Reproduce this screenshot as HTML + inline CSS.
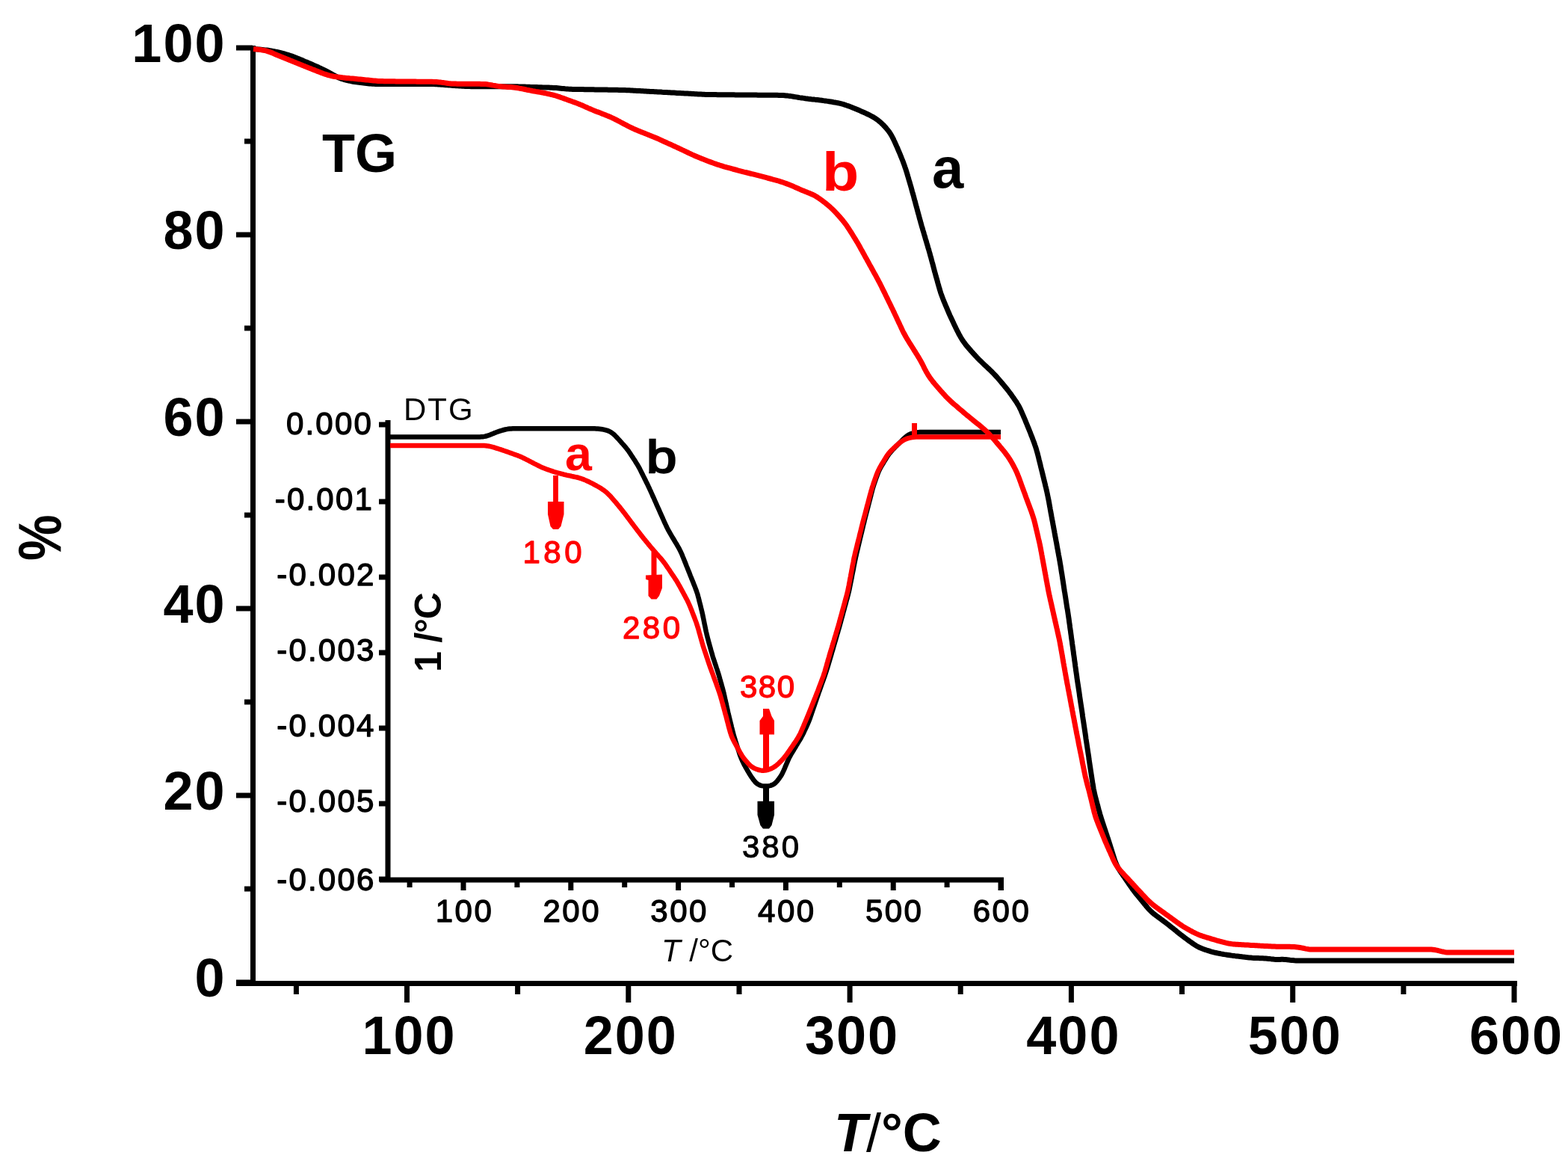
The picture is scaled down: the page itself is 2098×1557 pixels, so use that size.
<!DOCTYPE html>
<html><head><meta charset="utf-8"><title>TG / DTG</title>
<style>
html,body{margin:0;padding:0;background:#fff;}
body{width:2098px;height:1557px;overflow:hidden;}
svg{display:block;}
</style></head><body>
<svg width="2098" height="1557" viewBox="0 0 2098 1557">
<rect width="2098" height="1557" fill="#fff"/>
<g stroke="#000" stroke-width="7" fill="none" stroke-linecap="butt">
<path d="M338.5,61 V1318.5"/>
<path d="M316,1315.5 H2030"/>
<path d="M316,64.0 H338"/>
<path d="M327,189.0 H338"/>
<path d="M316,314.0 H338"/>
<path d="M327,439.0 H338"/>
<path d="M316,564.0 H338"/>
<path d="M327,689.0 H338"/>
<path d="M316,814.0 H338"/>
<path d="M327,939.0 H338"/>
<path d="M316,1064.0 H338"/>
<path d="M327,1189.0 H338"/>
<path d="M316,1314.0 H338"/>
<path d="M396.4,1315 V1330"/>
<path d="M544.5,1315 V1341"/>
<path d="M692.6,1315 V1330"/>
<path d="M840.8,1315 V1341"/>
<path d="M989.0,1315 V1330"/>
<path d="M1137.1,1315 V1341"/>
<path d="M1285.2,1315 V1330"/>
<path d="M1433.4,1315 V1341"/>
<path d="M1581.5,1315 V1330"/>
<path d="M1729.7,1315 V1341"/>
<path d="M1877.9,1315 V1330"/>
<path d="M2026.0,1315 V1341"/>
</g>
<g font-family='"Liberation Sans", Arial, Helvetica, sans-serif' font-weight="bold" font-size="72" fill="#000">
<text x="302.5" y="83.0" text-anchor="end" letter-spacing="2">100</text>
<text x="302.5" y="333.0" text-anchor="end" letter-spacing="2">80</text>
<text x="302.5" y="583.0" text-anchor="end" letter-spacing="2">60</text>
<text x="302.5" y="833.0" text-anchor="end" letter-spacing="2">40</text>
<text x="302.5" y="1083.0" text-anchor="end" letter-spacing="2">20</text>
<text x="302.5" y="1333.0" text-anchor="end" letter-spacing="2">0</text>
<text x="547.5" y="1409.5" text-anchor="middle" letter-spacing="2">100</text>
<text x="843.8" y="1409.5" text-anchor="middle" letter-spacing="2">200</text>
<text x="1140.1" y="1409.5" text-anchor="middle" letter-spacing="2">300</text>
<text x="1436.4" y="1409.5" text-anchor="middle" letter-spacing="2">400</text>
<text x="1732.7" y="1409.5" text-anchor="middle" letter-spacing="2">500</text>
<text x="2029.0" y="1409.5" text-anchor="middle" letter-spacing="2">600</text>
<text x="431" y="229.5">TG</text>
<text x="1247" y="250.5" font-size="76">a</text>
<text transform="translate(1100,254.5) scale(1.12,1)" fill="#f00">b</text>
<text x="1116" y="1539.5"><tspan font-style="italic">T</tspan><tspan font-weight="normal" dx="-1">/</tspan>°C</text>
<text transform="translate(81,750) rotate(-90) scale(0.96,1.13)">%</text>
</g>
<g stroke="#000" stroke-width="7" fill="none">
<path d="M519,562 V1180"/>
<path d="M508,1177 H1343"/>
<path d="M1339.5,1177 V1191"/>
<path d="M507,568.0 H519"/>
<path d="M507,671.0 H519"/>
<path d="M507,772.0 H519"/>
<path d="M507,873.0 H519"/>
<path d="M507,974.0 H519"/>
<path d="M507,1075.0 H519"/>
<path d="M507,1176.0 H519"/>
<path d="M548.1,1177 V1187"/>
<path d="M620.0,1177 V1191"/>
<path d="M691.9,1177 V1187"/>
<path d="M763.8,1177 V1191"/>
<path d="M835.7,1177 V1187"/>
<path d="M907.6,1177 V1191"/>
<path d="M979.5,1177 V1187"/>
<path d="M1051.4,1177 V1191"/>
<path d="M1123.3,1177 V1187"/>
<path d="M1195.2,1177 V1191"/>
<path d="M1267.1,1177 V1187"/>
<path d="M1339.0,1177 V1191"/>
</g>
<g font-family='"Liberation Sans", Arial, Helvetica, sans-serif' font-size="42" stroke-width="1.3" stroke-linejoin="round" fill="#000" stroke="#000">
<text x="499.0" y="581.0" text-anchor="end" letter-spacing="2.2">0.000</text>
<text x="500.0" y="682.0" text-anchor="end" letter-spacing="2.2">-0.001</text>
<text x="502.5" y="783.0" text-anchor="end" letter-spacing="2.2">-0.002</text>
<text x="502.5" y="884.0" text-anchor="end" letter-spacing="2.2">-0.003</text>
<text x="502.5" y="985.0" text-anchor="end" letter-spacing="2.2">-0.004</text>
<text x="502.5" y="1086.0" text-anchor="end" letter-spacing="2.2">-0.005</text>
<text x="502.5" y="1191.0" text-anchor="end" letter-spacing="2.2">-0.006</text>
<text x="621.5" y="1233" text-anchor="middle" letter-spacing="2.5">100</text>
<text x="765.3" y="1233" text-anchor="middle" letter-spacing="2.5">200</text>
<text x="909.1" y="1233" text-anchor="middle" letter-spacing="2.5">300</text>
<text x="1052.9" y="1233" text-anchor="middle" letter-spacing="2.5">400</text>
<text x="1196.7" y="1233" text-anchor="middle" letter-spacing="2.5">500</text>
<text x="1340.5" y="1233" text-anchor="middle" letter-spacing="2.5">600</text>
</g>
<g font-family='"Liberation Sans", Arial, Helvetica, sans-serif' font-size="42" fill="#000">
<text x="540" y="562" letter-spacing="2">DTG</text>
<text x="885" y="1285.5"><tspan font-style="italic">T</tspan> /°C</text>
<text x="993" y="1147" letter-spacing="3" stroke="#000" stroke-width="1">380</text>
<text transform="translate(590,899) rotate(-90)" font-weight="bold" font-size="50" letter-spacing="-1.2">1 /°C</text>
<text transform="translate(865,632) scale(1.17,1)" font-size="62" stroke="#000" stroke-width="2.4">b</text>
</g>
<g font-family='"Liberation Sans", Arial, Helvetica, sans-serif' font-size="42" stroke-width="1.3" stroke-linejoin="round" fill="#f00" stroke="#f00">
<text x="699.5" y="753" letter-spacing="4.5">180</text>
<text x="833" y="854" letter-spacing="3.5">280</text>
<text x="990" y="933" letter-spacing="1.5">380</text>
</g>
<text x="756" y="629.2" font-family='"Liberation Sans", Arial, Helvetica, sans-serif' font-weight="bold" font-size="64.5" fill="#f00">a</text>
<g fill="none" stroke-linejoin="round" stroke-linecap="butt">
<path d="M339.0,65.5 L341.0,65.7 L343.0,65.8 L345.0,66.0 L347.0,66.1 L349.0,66.3 L351.0,66.5 L353.0,66.7 L354.9,66.9 L356.9,67.1 L358.9,67.3 L360.9,67.6 L362.9,67.9 L364.8,68.3 L366.8,68.7 L368.7,69.1 L370.7,69.5 L372.6,69.9 L374.6,70.4 L376.5,70.9 L378.5,71.4 L380.4,71.9 L382.3,72.5 L384.2,73.1 L386.1,73.7 L388.0,74.3 L389.9,74.9 L391.8,75.6 L393.7,76.3 L395.5,77.0 L397.4,77.8 L399.3,78.5 L401.1,79.3 L403.0,80.0 L404.8,80.8 L406.6,81.6 L408.5,82.4 L410.3,83.1 L412.2,83.9 L414.0,84.7 L415.9,85.5 L417.7,86.3 L419.5,87.1 L421.4,87.9 L423.2,88.7 L425.0,89.5 L426.8,90.4 L428.6,91.2 L430.4,92.1 L432.2,93.0 L434.0,93.8 L435.8,94.7 L437.6,95.6 L439.3,96.6 L441.1,97.5 L442.8,98.5 L444.6,99.4 L446.3,100.4 L448.1,101.4 L449.8,102.3 L451.6,103.1 L453.4,104.0 L455.2,104.7 L457.1,105.4 L459.0,106.0 L460.9,106.6 L462.8,107.1 L464.8,107.6 L466.7,108.0 L468.7,108.4 L470.6,108.8 L472.6,109.2 L474.6,109.5 L476.6,109.8 L478.5,110.0 L480.5,110.3 L482.5,110.6 L484.5,110.8 L486.5,111.0 L488.5,111.3 L490.5,111.5 L492.4,111.7 L494.4,111.9 L496.4,112.0 L498.4,112.2 L500.4,112.3 L502.4,112.4 L504.4,112.5 L506.4,112.5 L508.4,112.5 L510.4,112.5 L512.4,112.5 L514.4,112.5 L516.4,112.5 L518.4,112.5 L520.4,112.5 L522.4,112.5 L524.4,112.5 L526.4,112.5 L528.4,112.5 L530.4,112.5 L532.4,112.5 L534.4,112.5 L536.4,112.5 L538.4,112.5 L540.4,112.5 L542.4,112.5 L544.4,112.5 L546.4,112.5 L548.4,112.5 L550.4,112.5 L552.4,112.5 L554.4,112.5 L556.4,112.5 L558.4,112.5 L560.4,112.5 L562.4,112.5 L564.4,112.5 L566.4,112.5 L568.4,112.5 L570.4,112.5 L572.4,112.5 L574.4,112.5 L576.4,112.5 L578.4,112.5 L580.4,112.6 L582.4,112.7 L584.4,112.8 L586.4,112.9 L588.4,113.0 L590.4,113.2 L592.4,113.3 L594.4,113.5 L596.4,113.7 L598.3,113.8 L600.3,114.0 L602.3,114.1 L604.3,114.3 L606.3,114.4 L608.3,114.5 L610.3,114.7 L612.3,114.8 L614.3,114.9 L616.3,115.1 L618.3,115.2 L620.3,115.3 L622.3,115.4 L624.3,115.5 L626.3,115.6 L628.3,115.6 L630.3,115.7 L632.3,115.7 L634.3,115.7 L636.3,115.7 L638.3,115.7 L640.3,115.7 L642.3,115.7 L644.3,115.7 L646.3,115.7 L648.3,115.7 L650.3,115.7 L652.3,115.7 L654.3,115.7 L656.3,115.7 L658.3,115.7 L660.3,115.7 L662.3,115.7 L664.3,115.7 L666.3,115.7 L668.3,115.7 L670.3,115.7 L672.3,115.7 L674.3,115.7 L676.3,115.7 L678.3,115.7 L680.3,115.7 L682.3,115.7 L684.3,115.7 L686.3,115.7 L688.3,115.7 L690.3,115.8 L692.3,115.8 L694.3,115.9 L696.3,115.9 L698.3,116.0 L700.3,116.0 L702.3,116.1 L704.3,116.2 L706.3,116.2 L708.3,116.3 L710.3,116.4 L712.3,116.4 L714.3,116.5 L716.3,116.6 L718.3,116.6 L720.3,116.7 L722.3,116.7 L724.3,116.8 L726.3,116.9 L728.3,116.9 L730.3,117.0 L732.3,117.1 L734.3,117.1 L736.3,117.2 L738.3,117.3 L740.3,117.4 L742.3,117.5 L744.2,117.6 L746.2,117.8 L748.2,118.0 L750.2,118.2 L752.2,118.4 L754.2,118.6 L756.2,118.8 L758.2,118.9 L760.2,119.1 L762.2,119.2 L764.2,119.3 L766.1,119.4 L768.1,119.5 L770.1,119.5 L772.1,119.5 L774.1,119.6 L776.1,119.6 L778.1,119.6 L780.1,119.6 L782.1,119.7 L784.1,119.7 L786.1,119.7 L788.1,119.7 L790.1,119.8 L792.1,119.8 L794.1,119.8 L796.1,119.9 L798.1,119.9 L800.1,119.9 L802.1,120.0 L804.1,120.0 L806.1,120.0 L808.1,120.1 L810.1,120.1 L812.1,120.1 L814.1,120.2 L816.1,120.2 L818.1,120.2 L820.1,120.2 L822.1,120.3 L824.1,120.3 L826.1,120.3 L828.1,120.4 L830.1,120.4 L832.1,120.5 L834.1,120.5 L836.1,120.6 L838.1,120.7 L840.1,120.7 L842.1,120.8 L844.1,120.9 L846.1,121.0 L848.1,121.2 L850.1,121.3 L852.1,121.4 L854.1,121.5 L856.1,121.6 L858.1,121.7 L860.1,121.8 L862.1,121.9 L864.1,122.0 L866.1,122.2 L868.1,122.3 L870.1,122.4 L872.1,122.5 L874.1,122.6 L876.1,122.7 L878.1,122.8 L880.1,122.9 L882.1,123.0 L884.1,123.1 L886.1,123.3 L888.1,123.4 L890.1,123.5 L892.1,123.6 L894.0,123.7 L896.0,123.8 L898.0,123.9 L900.0,124.0 L902.0,124.1 L904.0,124.2 L906.0,124.4 L908.0,124.5 L910.0,124.6 L912.0,124.7 L914.0,124.8 L916.0,124.9 L918.0,125.0 L920.0,125.1 L922.0,125.2 L924.0,125.3 L926.0,125.5 L928.0,125.6 L930.0,125.7 L932.0,125.8 L934.0,125.9 L936.0,126.0 L938.0,126.1 L940.0,126.2 L942.0,126.3 L944.0,126.4 L946.0,126.4 L948.0,126.5 L950.0,126.5 L952.0,126.6 L954.0,126.6 L956.0,126.6 L958.0,126.6 L960.0,126.7 L962.0,126.7 L964.0,126.7 L966.0,126.7 L968.0,126.7 L970.0,126.7 L972.0,126.8 L974.0,126.8 L976.0,126.8 L978.0,126.8 L980.0,126.8 L982.0,126.8 L984.0,126.9 L986.0,126.9 L988.0,126.9 L990.0,126.9 L992.0,126.9 L994.0,127.0 L996.0,127.0 L998.0,127.0 L1000.0,127.0 L1002.0,127.0 L1004.0,127.1 L1006.0,127.1 L1008.0,127.1 L1010.0,127.1 L1012.0,127.1 L1014.0,127.2 L1016.0,127.2 L1018.0,127.2 L1020.0,127.2 L1022.0,127.2 L1024.0,127.2 L1026.0,127.3 L1028.0,127.3 L1030.0,127.3 L1032.0,127.3 L1034.0,127.3 L1036.0,127.3 L1038.0,127.3 L1040.0,127.3 L1042.0,127.4 L1044.0,127.4 L1046.0,127.5 L1048.0,127.6 L1049.9,127.7 L1051.9,127.9 L1053.9,128.1 L1055.9,128.4 L1057.9,128.6 L1059.8,128.9 L1061.8,129.3 L1063.8,129.6 L1065.8,129.9 L1067.7,130.2 L1069.7,130.6 L1071.7,130.9 L1073.7,131.1 L1075.7,131.4 L1077.6,131.7 L1079.6,131.9 L1081.6,132.2 L1083.6,132.4 L1085.6,132.7 L1087.6,132.9 L1089.6,133.1 L1091.5,133.4 L1093.5,133.6 L1095.5,133.8 L1097.5,134.1 L1099.5,134.3 L1101.5,134.6 L1103.4,134.9 L1105.4,135.1 L1107.4,135.4 L1109.4,135.7 L1111.4,136.0 L1113.3,136.3 L1115.3,136.7 L1117.3,137.0 L1119.2,137.4 L1121.2,137.8 L1123.1,138.2 L1125.1,138.7 L1127.0,139.2 L1128.9,139.7 L1130.8,140.3 L1132.7,141.0 L1134.6,141.6 L1136.5,142.3 L1138.4,143.0 L1140.2,143.7 L1142.1,144.5 L1143.9,145.2 L1145.8,146.0 L1147.6,146.8 L1149.5,147.6 L1151.3,148.4 L1153.1,149.2 L1155.0,150.0 L1156.8,150.8 L1158.6,151.6 L1160.4,152.5 L1162.2,153.3 L1164.0,154.2 L1165.8,155.2 L1167.5,156.1 L1169.3,157.1 L1171.0,158.2 L1172.6,159.3 L1174.2,160.4 L1175.8,161.7 L1177.3,162.9 L1178.8,164.3 L1180.2,165.6 L1181.7,167.0 L1183.1,168.5 L1184.4,169.9 L1185.7,171.4 L1187.0,173.0 L1188.3,174.5 L1189.5,176.1 L1190.6,177.7 L1191.7,179.4 L1192.7,181.1 L1193.7,182.9 L1194.6,184.6 L1195.5,186.4 L1196.3,188.2 L1197.2,190.0 L1198.0,191.9 L1198.8,193.7 L1199.6,195.5 L1200.5,197.3 L1201.2,199.2 L1202.0,201.0 L1202.8,202.9 L1203.6,204.7 L1204.4,206.6 L1205.1,208.4 L1205.9,210.3 L1206.6,212.1 L1207.4,214.0 L1208.1,215.8 L1208.8,217.7 L1209.5,219.6 L1210.2,221.5 L1210.8,223.4 L1211.5,225.2 L1212.1,227.1 L1212.7,229.1 L1213.3,231.0 L1213.9,232.9 L1214.4,234.8 L1215.0,236.7 L1215.6,238.6 L1216.1,240.5 L1216.7,242.5 L1217.3,244.4 L1217.8,246.3 L1218.4,248.2 L1218.9,250.1 L1219.5,252.1 L1220.0,254.0 L1220.5,255.9 L1221.1,257.9 L1221.6,259.8 L1222.2,261.7 L1222.7,263.6 L1223.2,265.6 L1223.7,267.5 L1224.3,269.4 L1224.8,271.4 L1225.3,273.3 L1225.8,275.2 L1226.3,277.1 L1226.9,279.1 L1227.4,281.0 L1227.9,282.9 L1228.4,284.9 L1229.0,286.8 L1229.5,288.7 L1230.0,290.7 L1230.5,292.6 L1231.1,294.5 L1231.6,296.4 L1232.1,298.4 L1232.7,300.3 L1233.2,302.2 L1233.8,304.1 L1234.4,306.1 L1234.9,308.0 L1235.5,309.9 L1236.1,311.8 L1236.6,313.7 L1237.2,315.6 L1237.8,317.6 L1238.3,319.5 L1238.9,321.4 L1239.5,323.3 L1240.0,325.2 L1240.6,327.1 L1241.2,329.1 L1241.7,331.0 L1242.3,332.9 L1242.9,334.8 L1243.4,336.7 L1244.0,338.7 L1244.5,340.6 L1245.0,342.5 L1245.6,344.4 L1246.1,346.4 L1246.6,348.3 L1247.1,350.2 L1247.7,352.2 L1248.2,354.1 L1248.7,356.0 L1249.2,358.0 L1249.7,359.9 L1250.2,361.8 L1250.7,363.8 L1251.3,365.7 L1251.8,367.6 L1252.3,369.6 L1252.9,371.5 L1253.4,373.4 L1254.0,375.3 L1254.5,377.3 L1255.0,379.2 L1255.6,381.1 L1256.1,383.0 L1256.7,385.0 L1257.2,386.9 L1257.8,388.8 L1258.4,390.7 L1259.0,392.6 L1259.7,394.5 L1260.4,396.4 L1261.1,398.2 L1261.8,400.1 L1262.5,401.9 L1263.3,403.8 L1264.1,405.6 L1264.8,407.5 L1265.6,409.3 L1266.4,411.2 L1267.2,413.0 L1267.9,414.9 L1268.7,416.7 L1269.5,418.5 L1270.3,420.4 L1271.1,422.2 L1272.0,424.0 L1272.8,425.8 L1273.7,427.6 L1274.5,429.4 L1275.4,431.2 L1276.2,433.0 L1277.1,434.9 L1278.0,436.7 L1278.8,438.5 L1279.7,440.3 L1280.6,442.1 L1281.5,443.8 L1282.4,445.6 L1283.3,447.4 L1284.3,449.1 L1285.3,450.9 L1286.3,452.6 L1287.4,454.3 L1288.5,456.0 L1289.6,457.6 L1290.8,459.2 L1292.0,460.8 L1293.2,462.4 L1294.5,463.9 L1295.8,465.4 L1297.1,466.9 L1298.4,468.4 L1299.7,469.9 L1301.1,471.4 L1302.4,472.9 L1303.8,474.4 L1305.1,475.9 L1306.5,477.3 L1307.9,478.8 L1309.2,480.2 L1310.6,481.6 L1312.1,483.0 L1313.5,484.4 L1314.9,485.8 L1316.4,487.2 L1317.8,488.6 L1319.3,489.9 L1320.8,491.3 L1322.2,492.7 L1323.7,494.0 L1325.1,495.4 L1326.6,496.8 L1328.0,498.2 L1329.4,499.6 L1330.8,501.1 L1332.1,502.5 L1333.5,504.0 L1334.8,505.5 L1336.1,507.0 L1337.4,508.5 L1338.7,510.0 L1340.0,511.6 L1341.3,513.1 L1342.6,514.6 L1343.9,516.2 L1345.1,517.7 L1346.4,519.3 L1347.6,520.8 L1348.9,522.4 L1350.1,524.0 L1351.3,525.6 L1352.5,527.2 L1353.7,528.8 L1354.8,530.5 L1356.0,532.1 L1357.1,533.7 L1358.3,535.4 L1359.4,537.0 L1360.5,538.7 L1361.5,540.4 L1362.5,542.1 L1363.5,543.8 L1364.4,545.6 L1365.3,547.4 L1366.1,549.2 L1366.9,551.0 L1367.7,552.9 L1368.5,554.7 L1369.3,556.5 L1370.1,558.4 L1370.9,560.2 L1371.7,562.1 L1372.4,563.9 L1373.2,565.8 L1374.0,567.6 L1374.7,569.5 L1375.5,571.3 L1376.2,573.2 L1377.0,575.0 L1377.7,576.9 L1378.5,578.7 L1379.2,580.6 L1379.9,582.5 L1380.7,584.3 L1381.4,586.2 L1382.1,588.1 L1382.8,589.9 L1383.5,591.8 L1384.2,593.7 L1384.8,595.6 L1385.5,597.5 L1386.1,599.4 L1386.7,601.3 L1387.2,603.2 L1387.8,605.1 L1388.3,607.0 L1388.8,609.0 L1389.3,610.9 L1389.8,612.9 L1390.2,614.8 L1390.7,616.7 L1391.2,618.7 L1391.7,620.6 L1392.2,622.6 L1392.6,624.5 L1393.1,626.5 L1393.6,628.4 L1394.1,630.3 L1394.6,632.3 L1395.0,634.2 L1395.5,636.2 L1396.0,638.1 L1396.5,640.1 L1396.9,642.0 L1397.4,643.9 L1397.9,645.9 L1398.4,647.8 L1398.8,649.8 L1399.3,651.7 L1399.8,653.7 L1400.2,655.6 L1400.7,657.6 L1401.1,659.5 L1401.5,661.5 L1401.9,663.4 L1402.3,665.4 L1402.7,667.3 L1403.1,669.3 L1403.5,671.3 L1403.8,673.2 L1404.2,675.2 L1404.5,677.2 L1404.9,679.1 L1405.2,681.1 L1405.6,683.1 L1405.9,685.0 L1406.3,687.0 L1406.7,689.0 L1407.0,690.9 L1407.4,692.9 L1407.7,694.9 L1408.1,696.8 L1408.5,698.8 L1408.8,700.8 L1409.2,702.7 L1409.6,704.7 L1409.9,706.7 L1410.3,708.6 L1410.7,710.6 L1411.0,712.6 L1411.4,714.5 L1411.7,716.5 L1412.1,718.5 L1412.5,720.4 L1412.8,722.4 L1413.2,724.4 L1413.6,726.3 L1413.9,728.3 L1414.3,730.3 L1414.6,732.2 L1415.0,734.2 L1415.4,736.2 L1415.7,738.2 L1416.1,740.1 L1416.4,742.1 L1416.8,744.1 L1417.2,746.0 L1417.5,748.0 L1417.9,750.0 L1418.2,751.9 L1418.5,753.9 L1418.9,755.9 L1419.2,757.8 L1419.5,759.8 L1419.8,761.8 L1420.1,763.8 L1420.4,765.7 L1420.8,767.7 L1421.1,769.7 L1421.4,771.7 L1421.7,773.7 L1422.0,775.6 L1422.3,777.6 L1422.6,779.6 L1422.9,781.6 L1423.2,783.5 L1423.5,785.5 L1423.8,787.5 L1424.1,789.5 L1424.4,791.4 L1424.8,793.4 L1425.1,795.4 L1425.4,797.4 L1425.7,799.3 L1426.0,801.3 L1426.3,803.3 L1426.6,805.3 L1426.9,807.2 L1427.2,809.2 L1427.5,811.2 L1427.8,813.2 L1428.2,815.1 L1428.5,817.1 L1428.8,819.1 L1429.1,821.1 L1429.4,823.1 L1429.7,825.0 L1430.0,827.0 L1430.3,829.0 L1430.5,831.0 L1430.8,833.0 L1431.1,834.9 L1431.4,836.9 L1431.6,838.9 L1431.9,840.9 L1432.2,842.9 L1432.5,844.8 L1432.7,846.8 L1433.0,848.8 L1433.3,850.8 L1433.5,852.8 L1433.8,854.7 L1434.1,856.7 L1434.4,858.7 L1434.6,860.7 L1434.9,862.7 L1435.2,864.7 L1435.5,866.6 L1435.7,868.6 L1436.0,870.6 L1436.3,872.6 L1436.5,874.6 L1436.8,876.5 L1437.1,878.5 L1437.4,880.5 L1437.6,882.5 L1437.9,884.5 L1438.2,886.4 L1438.5,888.4 L1438.7,890.4 L1439.0,892.4 L1439.3,894.4 L1439.5,896.4 L1439.8,898.3 L1440.1,900.3 L1440.4,902.3 L1440.7,904.3 L1440.9,906.3 L1441.2,908.2 L1441.5,910.2 L1441.8,912.2 L1442.1,914.2 L1442.4,916.1 L1442.7,918.1 L1443.0,920.1 L1443.3,922.1 L1443.6,924.1 L1443.9,926.0 L1444.2,928.0 L1444.4,930.0 L1444.7,932.0 L1445.0,934.0 L1445.3,935.9 L1445.6,937.9 L1445.9,939.9 L1446.2,941.9 L1446.5,943.8 L1446.8,945.8 L1447.1,947.8 L1447.4,949.8 L1447.7,951.8 L1448.0,953.7 L1448.3,955.7 L1448.5,957.7 L1448.8,959.7 L1449.1,961.7 L1449.4,963.6 L1449.7,965.6 L1450.0,967.6 L1450.3,969.6 L1450.6,971.5 L1450.9,973.5 L1451.2,975.5 L1451.5,977.5 L1451.8,979.5 L1452.1,981.4 L1452.4,983.4 L1452.7,985.4 L1452.9,987.4 L1453.2,989.4 L1453.5,991.3 L1453.8,993.3 L1454.1,995.3 L1454.4,997.3 L1454.7,999.2 L1455.0,1001.2 L1455.3,1003.2 L1455.6,1005.2 L1455.9,1007.2 L1456.2,1009.1 L1456.5,1011.1 L1456.8,1013.1 L1457.0,1015.1 L1457.3,1017.0 L1457.6,1019.0 L1457.9,1021.0 L1458.2,1023.0 L1458.5,1025.0 L1458.8,1026.9 L1459.1,1028.9 L1459.4,1030.9 L1459.7,1032.9 L1460.0,1034.9 L1460.3,1036.8 L1460.6,1038.8 L1460.9,1040.8 L1461.2,1042.8 L1461.5,1044.7 L1461.8,1046.7 L1462.1,1048.7 L1462.5,1050.7 L1462.8,1052.6 L1463.1,1054.6 L1463.5,1056.6 L1463.9,1058.5 L1464.3,1060.5 L1464.7,1062.4 L1465.2,1064.4 L1465.7,1066.3 L1466.2,1068.2 L1466.7,1070.2 L1467.2,1072.1 L1467.7,1074.0 L1468.2,1076.0 L1468.8,1077.9 L1469.3,1079.8 L1469.8,1081.8 L1470.3,1083.7 L1470.9,1085.6 L1471.4,1087.6 L1471.9,1089.5 L1472.5,1091.4 L1473.1,1093.3 L1473.7,1095.2 L1474.3,1097.1 L1474.9,1099.0 L1475.5,1100.9 L1476.1,1102.8 L1476.8,1104.7 L1477.4,1106.6 L1478.0,1108.5 L1478.7,1110.4 L1479.3,1112.3 L1479.9,1114.2 L1480.6,1116.1 L1481.2,1118.0 L1481.8,1119.9 L1482.5,1121.8 L1483.1,1123.7 L1483.7,1125.6 L1484.3,1127.5 L1484.9,1129.4 L1485.5,1131.3 L1486.1,1133.2 L1486.7,1135.1 L1487.3,1137.1 L1487.9,1139.0 L1488.5,1140.9 L1489.1,1142.8 L1489.7,1144.7 L1490.3,1146.6 L1490.9,1148.5 L1491.5,1150.4 L1492.2,1152.3 L1492.9,1154.2 L1493.7,1156.0 L1494.5,1157.8 L1495.4,1159.5 L1496.3,1161.3 L1497.4,1163.0 L1498.4,1164.7 L1499.5,1166.3 L1500.6,1168.0 L1501.8,1169.6 L1502.9,1171.3 L1504.1,1172.9 L1505.2,1174.6 L1506.3,1176.2 L1507.4,1177.9 L1508.6,1179.5 L1509.7,1181.2 L1510.8,1182.9 L1512.0,1184.5 L1513.1,1186.1 L1514.3,1187.8 L1515.4,1189.4 L1516.6,1191.0 L1517.8,1192.6 L1519.1,1194.2 L1520.3,1195.7 L1521.5,1197.3 L1522.8,1198.8 L1524.1,1200.4 L1525.4,1201.9 L1526.6,1203.5 L1527.9,1205.0 L1529.2,1206.6 L1530.4,1208.1 L1531.7,1209.7 L1533.0,1211.2 L1534.2,1212.8 L1535.5,1214.3 L1536.9,1215.8 L1538.2,1217.2 L1539.6,1218.6 L1541.1,1220.0 L1542.6,1221.3 L1544.1,1222.6 L1545.7,1223.8 L1547.2,1225.0 L1548.9,1226.2 L1550.5,1227.4 L1552.1,1228.5 L1553.7,1229.7 L1555.3,1230.9 L1556.9,1232.1 L1558.6,1233.3 L1560.1,1234.5 L1561.7,1235.7 L1563.3,1236.9 L1564.9,1238.2 L1566.4,1239.4 L1568.0,1240.7 L1569.6,1241.9 L1571.1,1243.2 L1572.7,1244.4 L1574.2,1245.7 L1575.8,1247.0 L1577.3,1248.2 L1578.9,1249.5 L1580.5,1250.7 L1582.1,1251.9 L1583.6,1253.1 L1585.2,1254.3 L1586.9,1255.5 L1588.5,1256.7 L1590.1,1257.9 L1591.7,1259.1 L1593.3,1260.2 L1595.0,1261.4 L1596.6,1262.5 L1598.3,1263.6 L1599.9,1264.7 L1601.7,1265.7 L1603.4,1266.6 L1605.2,1267.5 L1607.0,1268.3 L1608.8,1269.0 L1610.7,1269.7 L1612.6,1270.4 L1614.5,1271.0 L1616.4,1271.6 L1618.3,1272.2 L1620.2,1272.8 L1622.2,1273.3 L1624.1,1273.8 L1626.0,1274.3 L1628.0,1274.7 L1629.9,1275.1 L1631.9,1275.5 L1633.9,1275.9 L1635.8,1276.2 L1637.8,1276.6 L1639.8,1276.9 L1641.8,1277.2 L1643.7,1277.5 L1645.7,1277.8 L1647.7,1278.1 L1649.7,1278.4 L1651.7,1278.6 L1653.6,1278.9 L1655.6,1279.1 L1657.6,1279.3 L1659.6,1279.6 L1661.6,1279.8 L1663.6,1280.1 L1665.6,1280.3 L1667.5,1280.5 L1669.5,1280.7 L1671.5,1280.9 L1673.5,1281.1 L1675.5,1281.3 L1677.5,1281.4 L1679.5,1281.5 L1681.5,1281.6 L1683.5,1281.6 L1685.5,1281.7 L1687.5,1281.7 L1689.5,1281.8 L1691.5,1281.9 L1693.5,1282.0 L1695.5,1282.2 L1697.4,1282.4 L1699.4,1282.6 L1701.3,1282.9 L1703.2,1283.1 L1705.1,1283.3 L1707.0,1283.4 L1708.9,1283.5 L1710.8,1283.4 L1712.7,1283.4 L1714.5,1283.3 L1716.4,1283.3 L1718.3,1283.4 L1720.3,1283.5 L1722.2,1283.7 L1724.1,1283.9 L1726.1,1284.2 L1728.1,1284.4 L1730.0,1284.6 L1732.0,1284.8 L1734.0,1284.9 L1736.0,1285.0 L1738.0,1285.0 L1740.0,1285.1 L1742.0,1285.1 L1744.0,1285.1 L1746.0,1285.0 L1748.0,1285.0 L1750.0,1285.0 L1752.0,1285.0 L1754.0,1285.0 L1756.0,1285.0 L1758.0,1285.0 L1760.0,1285.0 L1762.0,1285.0 L1764.0,1285.0 L1766.0,1285.0 L1768.0,1285.0 L1770.0,1285.0 L1772.0,1285.0 L1774.0,1285.0 L1776.0,1285.0 L1778.0,1285.0 L1780.0,1285.0 L1782.0,1285.0 L1784.0,1285.0 L1786.0,1285.0 L1788.0,1285.0 L1790.0,1285.0 L1792.0,1285.0 L1794.0,1285.0 L1796.0,1285.0 L1798.0,1285.0 L1800.0,1285.0 L1802.0,1285.0 L1804.0,1285.0 L1806.0,1285.0 L1808.0,1285.0 L1810.0,1285.0 L1812.0,1285.0 L1814.0,1285.0 L1816.0,1285.0 L1818.0,1285.0 L1820.0,1285.0 L1822.0,1285.0 L1824.0,1285.0 L1826.0,1285.0 L1828.0,1285.0 L1830.0,1285.0 L1832.0,1285.0 L1834.0,1285.0 L1836.0,1285.0 L1838.0,1285.0 L1840.0,1285.0 L1842.0,1285.0 L1844.0,1285.0 L1846.0,1285.0 L1848.0,1285.0 L1850.0,1285.0 L1852.0,1285.0 L1854.0,1285.0 L1856.0,1285.0 L1858.0,1285.0 L1860.0,1285.0 L1862.0,1285.0 L1864.0,1285.0 L1866.0,1285.0 L1868.0,1285.0 L1870.0,1285.0 L1872.0,1285.0 L1874.0,1285.0 L1876.0,1285.0 L1878.0,1285.0 L1880.0,1285.0 L1882.0,1285.0 L1884.0,1285.0 L1886.0,1285.0 L1888.0,1285.0 L1890.0,1285.0 L1892.0,1285.0 L1894.0,1285.0 L1896.0,1285.0 L1898.0,1285.0 L1900.0,1285.0 L1902.0,1285.0 L1904.0,1285.0 L1906.0,1285.0 L1908.0,1285.0 L1910.0,1285.0 L1912.0,1285.0 L1914.0,1285.0 L1916.0,1285.0 L1918.0,1285.0 L1920.0,1285.0 L1922.0,1285.0 L1924.0,1285.0 L1926.0,1285.0 L1928.0,1285.0 L1930.0,1285.0 L1932.0,1285.0 L1934.0,1285.0 L1936.0,1285.0 L1938.0,1285.0 L1940.0,1285.0 L1942.0,1285.0 L1944.0,1285.0 L1946.0,1285.0 L1948.0,1285.0 L1950.0,1285.0 L1952.0,1285.0 L1954.0,1285.0 L1956.0,1285.0 L1958.0,1285.0 L1960.0,1285.0 L1962.0,1285.0 L1964.0,1285.0 L1966.0,1285.0 L1968.0,1285.0 L1970.0,1285.0 L1972.0,1285.0 L1974.0,1285.0 L1976.0,1285.0 L1978.0,1285.0 L1980.0,1285.0 L1982.0,1285.0 L1984.0,1285.0 L1986.0,1285.0 L1988.0,1285.0 L1990.0,1285.0 L1992.0,1285.0 L1994.0,1285.0 L1996.0,1285.0 L1998.0,1285.0 L2000.0,1285.0 L2002.0,1285.0 L2004.0,1285.0 L2006.0,1285.0 L2008.0,1285.0 L2010.0,1285.0 L2012.0,1285.0 L2014.0,1285.0 L2016.0,1285.0 L2018.0,1285.0 L2020.0,1285.0 L2022.0,1285.0 L2024.0,1285.0 L2026.0,1285.0" stroke="#000" stroke-width="7"/>
<path d="M522.0,584.5 L524.0,584.5 L526.0,584.5 L528.0,584.5 L530.0,584.5 L532.0,584.5 L534.0,584.5 L536.0,584.5 L538.0,584.5 L540.0,584.5 L542.0,584.5 L544.0,584.5 L546.0,584.5 L548.0,584.5 L550.0,584.5 L552.0,584.5 L554.0,584.5 L556.0,584.5 L558.0,584.5 L560.0,584.5 L562.0,584.5 L564.0,584.5 L566.0,584.5 L568.0,584.5 L570.0,584.5 L572.0,584.5 L574.0,584.5 L576.0,584.5 L578.0,584.5 L580.0,584.5 L582.0,584.5 L584.0,584.5 L586.0,584.5 L588.0,584.5 L590.0,584.5 L592.0,584.5 L594.0,584.5 L596.0,584.5 L598.0,584.5 L600.0,584.5 L602.0,584.5 L604.0,584.5 L606.0,584.5 L608.0,584.5 L610.0,584.5 L612.0,584.5 L614.0,584.5 L616.0,584.5 L618.0,584.5 L620.0,584.5 L622.0,584.5 L624.0,584.5 L626.0,584.5 L628.0,584.5 L630.0,584.5 L632.0,584.5 L634.0,584.5 L636.0,584.5 L638.0,584.5 L640.0,584.5 L642.0,584.4 L644.0,584.3 L645.9,584.2 L647.9,583.9 L649.8,583.5 L651.7,583.0 L653.6,582.4 L655.4,581.7 L657.3,580.9 L659.1,580.2 L661.0,579.4 L662.8,578.7 L664.7,578.0 L666.6,577.3 L668.5,576.7 L670.4,576.1 L672.3,575.5 L674.2,575.0 L676.1,574.5 L678.1,574.1 L680.0,573.8 L682.0,573.5 L684.0,573.4 L686.0,573.3 L688.0,573.2 L690.0,573.2 L692.0,573.2 L694.0,573.2 L696.0,573.2 L698.0,573.2 L700.0,573.2 L702.0,573.2 L704.0,573.2 L706.0,573.2 L708.0,573.2 L710.0,573.2 L712.0,573.2 L714.0,573.2 L716.0,573.2 L718.0,573.2 L720.0,573.2 L722.0,573.2 L724.0,573.2 L726.0,573.2 L728.0,573.2 L730.0,573.2 L732.0,573.2 L734.0,573.2 L736.0,573.2 L738.0,573.2 L740.0,573.2 L742.0,573.2 L744.0,573.2 L746.0,573.2 L748.0,573.2 L750.0,573.2 L752.0,573.2 L754.0,573.2 L756.0,573.2 L758.0,573.2 L760.0,573.2 L762.0,573.2 L764.0,573.2 L766.0,573.2 L768.0,573.2 L770.0,573.2 L772.0,573.2 L774.0,573.2 L776.0,573.2 L778.0,573.2 L780.0,573.2 L782.0,573.2 L784.0,573.2 L786.0,573.2 L788.0,573.2 L790.0,573.2 L792.0,573.2 L793.9,573.3 L795.9,573.3 L797.9,573.4 L799.9,573.5 L801.9,573.7 L803.9,574.0 L805.9,574.3 L807.8,574.6 L809.7,575.1 L811.6,575.6 L813.5,576.2 L815.3,577.0 L817.0,577.9 L818.6,579.0 L820.2,580.2 L821.7,581.4 L823.1,582.8 L824.5,584.2 L825.9,585.7 L827.2,587.1 L828.6,588.6 L829.9,590.1 L831.2,591.6 L832.5,593.1 L833.9,594.6 L835.2,596.1 L836.5,597.6 L837.8,599.2 L839.0,600.7 L840.2,602.3 L841.4,603.9 L842.5,605.6 L843.6,607.2 L844.7,608.9 L845.8,610.6 L846.9,612.2 L848.0,613.9 L849.1,615.6 L850.2,617.3 L851.2,619.0 L852.3,620.7 L853.3,622.4 L854.3,624.1 L855.3,625.9 L856.2,627.6 L857.1,629.4 L858.0,631.2 L858.9,633.0 L859.8,634.8 L860.7,636.6 L861.6,638.4 L862.5,640.2 L863.4,642.0 L864.2,643.7 L865.1,645.5 L866.0,647.3 L866.9,649.1 L867.7,650.9 L868.6,652.7 L869.4,654.6 L870.3,656.4 L871.1,658.2 L871.9,660.0 L872.7,661.8 L873.5,663.7 L874.4,665.5 L875.2,667.3 L876.0,669.2 L876.8,671.0 L877.6,672.8 L878.4,674.6 L879.2,676.5 L880.0,678.3 L880.9,680.1 L881.7,681.9 L882.5,683.8 L883.3,685.6 L884.1,687.4 L884.9,689.2 L885.8,691.1 L886.6,692.9 L887.4,694.7 L888.2,696.5 L889.0,698.4 L889.9,700.2 L890.7,702.0 L891.5,703.8 L892.4,705.6 L893.3,707.4 L894.2,709.2 L895.2,710.9 L896.2,712.7 L897.2,714.4 L898.2,716.1 L899.2,717.8 L900.2,719.5 L901.3,721.3 L902.3,723.0 L903.3,724.7 L904.4,726.4 L905.4,728.1 L906.4,729.9 L907.4,731.6 L908.4,733.3 L909.3,735.1 L910.2,736.9 L911.1,738.7 L911.9,740.5 L912.7,742.3 L913.4,744.2 L914.2,746.0 L914.9,747.9 L915.7,749.7 L916.4,751.6 L917.2,753.4 L917.9,755.3 L918.6,757.2 L919.4,759.0 L920.1,760.9 L920.9,762.7 L921.6,764.6 L922.4,766.4 L923.1,768.3 L923.8,770.2 L924.6,772.0 L925.3,773.9 L926.1,775.7 L926.8,777.6 L927.6,779.4 L928.3,781.3 L929.0,783.1 L929.8,785.0 L930.5,786.9 L931.2,788.7 L931.9,790.6 L932.5,792.5 L933.2,794.4 L933.7,796.3 L934.2,798.2 L934.8,800.2 L935.2,802.1 L935.7,804.1 L936.2,806.0 L936.7,807.9 L937.2,809.9 L937.7,811.8 L938.1,813.8 L938.6,815.7 L939.1,817.6 L939.5,819.6 L940.0,821.5 L940.4,823.5 L940.8,825.5 L941.2,827.4 L941.6,829.4 L942.0,831.3 L942.4,833.3 L942.8,835.3 L943.2,837.2 L943.6,839.2 L944.0,841.1 L944.4,843.1 L944.8,845.0 L945.3,847.0 L945.7,848.9 L946.2,850.9 L946.7,852.8 L947.2,854.8 L947.7,856.7 L948.2,858.6 L948.7,860.5 L949.3,862.5 L949.8,864.4 L950.3,866.3 L950.9,868.3 L951.4,870.2 L952.0,872.1 L952.5,874.0 L953.1,876.0 L953.6,877.9 L954.2,879.8 L954.8,881.7 L955.5,883.6 L956.1,885.5 L956.7,887.4 L957.4,889.3 L958.0,891.2 L958.6,893.1 L959.3,895.0 L959.9,896.9 L960.5,898.8 L961.1,900.7 L961.7,902.6 L962.2,904.5 L962.8,906.4 L963.3,908.4 L963.9,910.3 L964.4,912.2 L965.0,914.1 L965.5,916.1 L966.0,918.0 L966.6,919.9 L967.1,921.8 L967.6,923.8 L968.1,925.7 L968.5,927.7 L969.0,929.6 L969.4,931.6 L969.9,933.5 L970.3,935.5 L970.8,937.4 L971.2,939.4 L971.6,941.3 L972.1,943.3 L972.5,945.2 L972.9,947.2 L973.4,949.1 L973.8,951.1 L974.2,953.0 L974.7,955.0 L975.1,956.9 L975.6,958.9 L976.1,960.8 L976.6,962.8 L977.0,964.7 L977.5,966.6 L978.0,968.6 L978.5,970.5 L978.9,972.5 L979.4,974.4 L979.9,976.3 L980.4,978.3 L980.9,980.2 L981.4,982.2 L981.9,984.1 L982.5,986.0 L983.1,987.9 L983.6,989.8 L984.2,991.7 L984.8,993.6 L985.4,995.6 L986.1,997.5 L986.7,999.4 L987.3,1001.3 L987.9,1003.2 L988.5,1005.1 L989.1,1007.0 L989.7,1008.9 L990.4,1010.8 L991.1,1012.6 L991.8,1014.5 L992.6,1016.3 L993.4,1018.1 L994.3,1019.9 L995.2,1021.7 L996.1,1023.5 L997.1,1025.2 L998.0,1027.0 L999.0,1028.7 L1000.0,1030.5 L1001.0,1032.2 L1002.0,1033.9 L1003.0,1035.6 L1004.1,1037.3 L1005.2,1039.0 L1006.4,1040.6 L1007.5,1042.2 L1008.7,1043.8 L1009.9,1045.3 L1011.2,1046.7 L1012.7,1048.0 L1014.2,1049.0 L1015.8,1049.9 L1017.6,1050.6 L1019.5,1051.1 L1021.4,1051.4 L1023.3,1051.6 L1025.2,1051.6 L1027.2,1051.5 L1029.1,1051.2 L1030.9,1050.8 L1032.7,1050.2 L1034.4,1049.4 L1036.0,1048.4 L1037.5,1047.2 L1038.9,1045.8 L1040.2,1044.4 L1041.4,1042.8 L1042.6,1041.3 L1043.7,1039.6 L1044.8,1038.0 L1045.8,1036.3 L1046.8,1034.5 L1047.6,1032.7 L1048.5,1030.9 L1049.3,1029.1 L1050.1,1027.2 L1050.8,1025.4 L1051.6,1023.6 L1052.4,1021.7 L1053.2,1019.9 L1054.0,1018.0 L1054.8,1016.2 L1055.6,1014.4 L1056.5,1012.6 L1057.5,1010.9 L1058.4,1009.1 L1059.4,1007.4 L1060.5,1005.7 L1061.5,1004.0 L1062.5,1002.3 L1063.6,1000.6 L1064.6,998.8 L1065.6,997.1 L1066.7,995.4 L1067.7,993.7 L1068.7,992.0 L1069.8,990.3 L1070.8,988.6 L1071.8,986.8 L1072.7,985.1 L1073.7,983.3 L1074.6,981.5 L1075.5,979.7 L1076.3,977.9 L1077.2,976.1 L1078.0,974.3 L1078.9,972.5 L1079.7,970.7 L1080.5,968.9 L1081.3,967.0 L1082.1,965.2 L1082.8,963.3 L1083.5,961.5 L1084.2,959.6 L1084.8,957.7 L1085.5,955.8 L1086.1,953.9 L1086.8,952.0 L1087.4,950.1 L1088.1,948.2 L1088.7,946.3 L1089.4,944.4 L1090.0,942.6 L1090.7,940.7 L1091.3,938.8 L1092.0,936.9 L1092.6,935.0 L1093.3,933.1 L1093.9,931.2 L1094.6,929.3 L1095.2,927.4 L1095.9,925.5 L1096.6,923.7 L1097.2,921.8 L1097.9,919.9 L1098.6,918.0 L1099.2,916.1 L1099.9,914.2 L1100.6,912.4 L1101.3,910.5 L1101.9,908.6 L1102.6,906.7 L1103.3,904.8 L1103.9,902.9 L1104.6,901.0 L1105.2,899.1 L1105.8,897.2 L1106.4,895.3 L1107.0,893.4 L1107.6,891.5 L1108.2,889.6 L1108.7,887.7 L1109.3,885.8 L1109.9,883.8 L1110.4,881.9 L1111.0,880.0 L1111.6,878.1 L1112.1,876.2 L1112.7,874.2 L1113.2,872.3 L1113.8,870.4 L1114.4,868.5 L1114.9,866.6 L1115.5,864.6 L1116.0,862.7 L1116.6,860.8 L1117.1,858.9 L1117.7,857.0 L1118.3,855.0 L1118.8,853.1 L1119.4,851.2 L1119.9,849.3 L1120.5,847.3 L1121.1,845.4 L1121.6,843.5 L1122.2,841.6 L1122.7,839.7 L1123.3,837.7 L1123.8,835.8 L1124.3,833.9 L1124.9,832.0 L1125.4,830.0 L1125.9,828.1 L1126.4,826.2 L1127.0,824.2 L1127.5,822.3 L1128.0,820.4 L1128.5,818.4 L1129.1,816.5 L1129.6,814.6 L1130.1,812.7 L1130.6,810.7 L1131.2,808.8 L1131.7,806.9 L1132.2,804.9 L1132.7,803.0 L1133.3,801.1 L1133.8,799.1 L1134.3,797.2 L1134.8,795.3 L1135.3,793.3 L1135.8,791.4 L1136.2,789.5 L1136.6,787.5 L1137.0,785.5 L1137.4,783.6 L1137.8,781.6 L1138.2,779.7 L1138.6,777.7 L1139.0,775.7 L1139.4,773.8 L1139.8,771.8 L1140.1,769.8 L1140.5,767.9 L1140.9,765.9 L1141.3,764.0 L1141.7,762.0 L1142.1,760.0 L1142.4,758.1 L1142.8,756.1 L1143.2,754.1 L1143.6,752.2 L1144.0,750.2 L1144.4,748.3 L1144.8,746.3 L1145.2,744.4 L1145.7,742.4 L1146.1,740.4 L1146.6,738.5 L1147.0,736.6 L1147.5,734.6 L1148.0,732.7 L1148.4,730.7 L1148.9,728.8 L1149.3,726.8 L1149.8,724.9 L1150.3,722.9 L1150.7,721.0 L1151.2,719.0 L1151.7,717.1 L1152.1,715.2 L1152.6,713.2 L1153.1,711.3 L1153.5,709.3 L1154.0,707.4 L1154.5,705.4 L1154.9,703.5 L1155.4,701.5 L1155.9,699.6 L1156.4,697.7 L1156.8,695.7 L1157.3,693.8 L1157.8,691.8 L1158.3,689.9 L1158.8,688.0 L1159.3,686.0 L1159.8,684.1 L1160.3,682.2 L1160.8,680.2 L1161.3,678.3 L1161.8,676.3 L1162.3,674.4 L1162.8,672.5 L1163.3,670.5 L1163.8,668.6 L1164.3,666.7 L1164.8,664.7 L1165.3,662.8 L1165.7,660.8 L1166.3,658.9 L1166.8,657.0 L1167.3,655.0 L1167.8,653.1 L1168.4,651.2 L1169.0,649.3 L1169.6,647.4 L1170.3,645.5 L1170.9,643.6 L1171.6,641.7 L1172.2,639.8 L1172.9,638.0 L1173.6,636.1 L1174.3,634.2 L1175.0,632.3 L1175.8,630.5 L1176.6,628.7 L1177.5,626.9 L1178.4,625.2 L1179.4,623.4 L1180.5,621.7 L1181.5,620.0 L1182.5,618.3 L1183.6,616.6 L1184.6,614.9 L1185.7,613.2 L1186.7,611.5 L1187.8,609.8 L1188.9,608.2 L1190.1,606.6 L1191.4,605.1 L1192.7,603.6 L1194.0,602.1 L1195.4,600.6 L1196.8,599.2 L1198.2,597.8 L1199.6,596.4 L1201.0,595.0 L1202.4,593.6 L1203.9,592.1 L1205.3,590.7 L1206.7,589.3 L1208.1,587.9 L1209.5,586.5 L1211.0,585.2 L1212.5,583.9 L1214.1,582.8 L1215.7,581.7 L1217.4,580.8 L1219.2,580.1 L1221.1,579.5 L1223.0,579.0 L1224.9,578.6 L1226.9,578.4 L1228.8,578.2 L1230.8,578.1 L1232.8,578.0 L1234.8,578.0 L1236.8,578.0 L1238.8,578.0 L1240.8,578.0 L1242.8,578.0 L1244.8,578.0 L1246.8,578.0 L1248.8,578.0 L1250.8,578.0 L1252.8,578.0 L1254.8,578.0 L1256.8,578.0 L1258.8,578.0 L1260.8,578.0 L1262.8,578.0 L1264.8,578.0 L1266.8,578.0 L1268.8,578.0 L1270.8,578.0 L1272.8,578.0 L1274.8,578.0 L1276.8,578.0 L1278.8,578.0 L1280.8,578.0 L1282.8,578.0 L1284.8,578.0 L1286.8,578.0 L1288.8,578.0 L1290.8,578.0 L1292.8,578.0 L1294.8,578.0 L1296.8,578.0 L1298.8,578.0 L1300.8,578.0 L1302.8,578.0 L1304.8,578.0 L1306.8,578.0 L1308.8,578.0 L1310.8,578.0 L1312.8,578.0 L1314.8,578.0 L1316.8,578.0 L1318.8,578.0 L1320.8,578.0 L1322.8,578.0 L1324.8,578.0 L1326.8,578.0 L1328.8,578.0 L1330.7,578.0 L1332.7,578.0 L1334.5,578.0 L1336.4,578.0 L1338.1,578.0 L1339.0,578.0" stroke="#000" stroke-width="6.5"/>
<path d="M339.0,65.5 L341.0,65.7 L343.0,65.9 L345.0,66.1 L347.0,66.4 L348.9,66.6 L350.9,67.0 L352.9,67.3 L354.8,67.7 L356.7,68.2 L358.6,68.8 L360.5,69.4 L362.4,70.1 L364.2,70.8 L366.0,71.6 L367.9,72.4 L369.7,73.2 L371.6,74.0 L373.4,74.7 L375.3,75.5 L377.1,76.2 L379.0,77.0 L380.8,77.7 L382.7,78.5 L384.5,79.2 L386.4,80.0 L388.2,80.8 L390.1,81.5 L391.9,82.3 L393.8,83.0 L395.7,83.8 L397.5,84.5 L399.4,85.2 L401.2,86.0 L403.1,86.7 L404.9,87.5 L406.8,88.2 L408.6,89.0 L410.5,89.7 L412.4,90.5 L414.2,91.2 L416.1,91.9 L417.9,92.7 L419.8,93.4 L421.7,94.1 L423.5,94.9 L425.4,95.6 L427.2,96.3 L429.1,97.1 L431.0,97.8 L432.9,98.5 L434.7,99.1 L436.6,99.7 L438.5,100.3 L440.5,100.9 L442.4,101.3 L444.3,101.8 L446.3,102.2 L448.3,102.5 L450.2,102.8 L452.2,103.1 L454.2,103.3 L456.2,103.5 L458.2,103.8 L460.2,104.0 L462.2,104.2 L464.2,104.4 L466.1,104.6 L468.1,104.8 L470.1,104.9 L472.1,105.1 L474.1,105.3 L476.1,105.5 L478.1,105.7 L480.1,105.9 L482.1,106.1 L484.1,106.3 L486.1,106.5 L488.0,106.7 L490.0,106.9 L492.0,107.1 L494.0,107.3 L496.0,107.5 L498.0,107.7 L500.0,107.9 L502.0,108.0 L504.0,108.2 L506.0,108.4 L508.0,108.5 L510.0,108.6 L511.9,108.6 L513.9,108.7 L515.9,108.7 L517.9,108.8 L519.9,108.8 L521.9,108.8 L523.9,108.8 L525.9,108.8 L527.9,108.8 L529.9,108.9 L531.9,108.9 L533.9,108.9 L535.9,108.9 L537.9,108.9 L539.9,109.0 L541.9,109.0 L543.9,109.0 L545.9,109.0 L547.9,109.0 L549.9,109.1 L551.9,109.1 L553.9,109.1 L555.9,109.1 L557.9,109.2 L559.9,109.2 L561.9,109.2 L563.9,109.2 L565.9,109.2 L567.9,109.2 L569.9,109.3 L571.9,109.3 L574.0,109.3 L576.0,109.3 L578.0,109.3 L579.9,109.4 L581.9,109.4 L583.9,109.5 L585.9,109.7 L587.9,109.9 L589.9,110.1 L591.8,110.4 L593.8,110.6 L595.8,110.9 L597.8,111.2 L599.7,111.5 L601.7,111.7 L603.7,111.9 L605.7,112.0 L607.7,112.1 L609.7,112.1 L611.7,112.2 L613.7,112.2 L615.7,112.2 L617.7,112.2 L619.7,112.2 L621.7,112.2 L623.7,112.2 L625.7,112.2 L627.7,112.3 L629.7,112.3 L631.7,112.3 L633.7,112.3 L635.7,112.3 L637.7,112.3 L639.7,112.3 L641.7,112.3 L643.7,112.4 L645.7,112.4 L647.7,112.5 L649.6,112.6 L651.6,112.8 L653.6,113.1 L655.5,113.4 L657.5,113.7 L659.5,114.1 L661.4,114.4 L663.4,114.8 L665.4,115.1 L667.3,115.4 L669.3,115.6 L671.3,115.8 L673.3,116.0 L675.3,116.1 L677.3,116.2 L679.3,116.4 L681.3,116.5 L683.3,116.6 L685.2,116.8 L687.2,117.0 L689.2,117.2 L691.2,117.5 L693.2,117.8 L695.1,118.2 L697.1,118.5 L699.0,118.9 L701.0,119.3 L703.0,119.7 L704.9,120.2 L706.9,120.5 L708.8,120.9 L710.8,121.3 L712.8,121.7 L714.7,122.0 L716.7,122.4 L718.7,122.7 L720.7,123.0 L722.6,123.4 L724.6,123.7 L726.6,124.1 L728.5,124.5 L730.5,124.9 L732.4,125.3 L734.4,125.7 L736.3,126.2 L738.3,126.6 L740.2,127.1 L742.1,127.7 L744.1,128.2 L746.0,128.8 L747.9,129.4 L749.8,130.1 L751.6,130.7 L753.5,131.4 L755.4,132.1 L757.3,132.8 L759.2,133.5 L761.0,134.2 L762.9,134.8 L764.8,135.5 L766.7,136.2 L768.6,136.9 L770.4,137.6 L772.3,138.3 L774.2,139.0 L776.0,139.8 L777.9,140.5 L779.7,141.3 L781.5,142.1 L783.4,142.9 L785.2,143.7 L787.0,144.6 L788.8,145.4 L790.7,146.1 L792.5,146.9 L794.4,147.7 L796.2,148.4 L798.1,149.2 L800.0,149.9 L801.8,150.6 L803.7,151.3 L805.5,152.1 L807.4,152.8 L809.3,153.5 L811.1,154.3 L813.0,155.0 L814.8,155.8 L816.7,156.6 L818.5,157.4 L820.3,158.2 L822.1,159.1 L823.9,160.0 L825.7,160.9 L827.4,161.8 L829.2,162.7 L831.0,163.7 L832.7,164.6 L834.5,165.6 L836.3,166.5 L838.0,167.4 L839.8,168.4 L841.6,169.3 L843.4,170.2 L845.2,171.0 L847.0,171.9 L848.8,172.7 L850.6,173.5 L852.5,174.3 L854.3,175.1 L856.2,175.8 L858.0,176.6 L859.9,177.3 L861.8,178.0 L863.6,178.8 L865.5,179.5 L867.3,180.2 L869.2,181.0 L871.0,181.7 L872.9,182.5 L874.7,183.2 L876.6,184.0 L878.4,184.8 L880.3,185.6 L882.1,186.4 L883.9,187.2 L885.7,188.1 L887.6,188.9 L889.4,189.7 L891.2,190.5 L893.0,191.4 L894.8,192.2 L896.7,193.0 L898.5,193.8 L900.3,194.7 L902.1,195.5 L903.9,196.3 L905.8,197.2 L907.6,198.0 L909.4,198.9 L911.2,199.7 L913.0,200.6 L914.8,201.4 L916.6,202.3 L918.4,203.1 L920.2,204.0 L922.0,204.9 L923.8,205.7 L925.7,206.6 L927.5,207.4 L929.3,208.2 L931.1,209.0 L933.0,209.8 L934.8,210.6 L936.6,211.3 L938.5,212.1 L940.4,212.8 L942.2,213.5 L944.1,214.2 L946.0,215.0 L947.8,215.7 L949.7,216.4 L951.6,217.1 L953.5,217.8 L955.3,218.5 L957.2,219.1 L959.1,219.8 L961.0,220.4 L962.9,221.0 L964.8,221.6 L966.7,222.2 L968.6,222.8 L970.6,223.3 L972.5,223.9 L974.4,224.4 L976.4,224.9 L978.3,225.4 L980.2,226.0 L982.1,226.5 L984.1,227.0 L986.0,227.5 L987.9,228.1 L989.9,228.6 L991.8,229.1 L993.7,229.6 L995.7,230.1 L997.6,230.5 L999.6,231.0 L1001.5,231.5 L1003.4,232.0 L1005.4,232.5 L1007.3,232.9 L1009.3,233.4 L1011.2,233.9 L1013.1,234.4 L1015.1,234.9 L1017.0,235.4 L1019.0,235.9 L1020.9,236.4 L1022.8,236.9 L1024.8,237.4 L1026.7,238.0 L1028.6,238.5 L1030.5,239.0 L1032.5,239.5 L1034.4,240.1 L1036.3,240.6 L1038.3,241.1 L1040.2,241.7 L1042.1,242.2 L1044.0,242.8 L1045.9,243.4 L1047.8,244.0 L1049.7,244.7 L1051.6,245.4 L1053.5,246.1 L1055.3,246.8 L1057.2,247.6 L1059.0,248.3 L1060.9,249.1 L1062.7,249.9 L1064.5,250.7 L1066.4,251.5 L1068.2,252.3 L1070.0,253.1 L1071.9,253.9 L1073.7,254.7 L1075.6,255.4 L1077.4,256.2 L1079.3,256.9 L1081.1,257.7 L1083.0,258.4 L1084.8,259.2 L1086.6,260.0 L1088.4,260.8 L1090.2,261.7 L1091.9,262.7 L1093.6,263.8 L1095.2,264.9 L1096.9,266.0 L1098.5,267.2 L1100.1,268.3 L1101.7,269.6 L1103.3,270.8 L1104.9,272.0 L1106.4,273.3 L1108.0,274.6 L1109.5,275.9 L1111.0,277.2 L1112.4,278.5 L1113.9,279.9 L1115.3,281.3 L1116.7,282.7 L1118.1,284.2 L1119.5,285.6 L1120.8,287.1 L1122.2,288.6 L1123.5,290.1 L1124.8,291.6 L1126.1,293.1 L1127.4,294.6 L1128.6,296.2 L1129.9,297.8 L1131.1,299.4 L1132.3,301.0 L1133.4,302.6 L1134.5,304.3 L1135.6,305.9 L1136.7,307.6 L1137.8,309.3 L1138.9,311.0 L1139.9,312.7 L1141.0,314.4 L1142.0,316.1 L1143.1,317.8 L1144.1,319.5 L1145.2,321.2 L1146.2,322.9 L1147.2,324.6 L1148.2,326.3 L1149.2,328.1 L1150.2,329.8 L1151.2,331.6 L1152.1,333.3 L1153.1,335.1 L1154.1,336.8 L1155.0,338.6 L1156.0,340.3 L1157.0,342.1 L1157.9,343.8 L1158.9,345.6 L1159.9,347.3 L1160.8,349.1 L1161.8,350.8 L1162.8,352.6 L1163.7,354.3 L1164.7,356.1 L1165.7,357.8 L1166.6,359.6 L1167.6,361.3 L1168.6,363.1 L1169.5,364.8 L1170.5,366.6 L1171.5,368.3 L1172.5,370.1 L1173.4,371.8 L1174.4,373.6 L1175.3,375.4 L1176.2,377.1 L1177.2,378.9 L1178.1,380.7 L1179.0,382.5 L1179.9,384.3 L1180.7,386.1 L1181.6,387.8 L1182.5,389.6 L1183.4,391.4 L1184.3,393.2 L1185.1,395.0 L1186.0,396.8 L1186.9,398.6 L1187.8,400.4 L1188.6,402.2 L1189.5,404.0 L1190.4,405.8 L1191.3,407.6 L1192.1,409.4 L1193.0,411.2 L1193.9,413.0 L1194.8,414.8 L1195.6,416.6 L1196.5,418.4 L1197.3,420.2 L1198.2,422.0 L1199.1,423.9 L1199.9,425.7 L1200.7,427.5 L1201.6,429.3 L1202.4,431.1 L1203.3,432.9 L1204.1,434.7 L1205.0,436.5 L1205.8,438.4 L1206.7,440.2 L1207.5,442.0 L1208.4,443.8 L1209.3,445.5 L1210.3,447.3 L1211.2,449.0 L1212.2,450.8 L1213.2,452.5 L1214.2,454.2 L1215.3,455.9 L1216.3,457.6 L1217.4,459.3 L1218.5,461.0 L1219.5,462.7 L1220.6,464.4 L1221.7,466.1 L1222.7,467.8 L1223.8,469.5 L1224.9,471.2 L1225.9,472.9 L1227.0,474.6 L1228.0,476.3 L1229.1,478.0 L1230.1,479.7 L1231.1,481.4 L1232.1,483.2 L1233.0,484.9 L1234.0,486.7 L1234.9,488.5 L1235.8,490.3 L1236.6,492.1 L1237.5,493.8 L1238.5,495.6 L1239.4,497.4 L1240.4,499.1 L1241.4,500.8 L1242.5,502.5 L1243.6,504.2 L1244.7,505.8 L1245.9,507.4 L1247.1,509.0 L1248.3,510.6 L1249.6,512.1 L1250.9,513.7 L1252.2,515.2 L1253.5,516.7 L1254.8,518.2 L1256.1,519.7 L1257.4,521.2 L1258.7,522.7 L1260.0,524.2 L1261.4,525.7 L1262.7,527.2 L1264.1,528.7 L1265.4,530.2 L1266.8,531.6 L1268.2,533.0 L1269.6,534.4 L1271.1,535.8 L1272.5,537.2 L1274.0,538.5 L1275.5,539.8 L1277.0,541.1 L1278.6,542.4 L1280.1,543.7 L1281.6,545.0 L1283.1,546.3 L1284.6,547.6 L1286.2,548.9 L1287.7,550.2 L1289.2,551.5 L1290.7,552.8 L1292.3,554.1 L1293.8,555.4 L1295.3,556.6 L1296.9,557.9 L1298.4,559.2 L1300.0,560.4 L1301.6,561.7 L1303.1,562.9 L1304.7,564.2 L1306.2,565.4 L1307.8,566.7 L1309.4,567.9 L1310.9,569.2 L1312.4,570.5 L1314.0,571.8 L1315.5,573.1 L1317.0,574.4 L1318.5,575.8 L1319.9,577.1 L1321.3,578.5 L1322.8,579.9 L1324.2,581.4 L1325.5,582.8 L1326.9,584.3 L1328.2,585.8 L1329.5,587.3 L1330.8,588.8 L1332.1,590.3 L1333.4,591.9 L1334.7,593.4 L1336.0,594.9 L1337.3,596.4 L1338.6,598.0 L1339.9,599.5 L1341.1,601.0 L1342.4,602.5 L1343.7,604.1 L1344.9,605.7 L1346.1,607.3 L1347.3,608.9 L1348.5,610.5 L1349.6,612.2 L1350.7,613.8 L1351.7,615.5 L1352.8,617.2 L1353.8,618.9 L1354.8,620.7 L1355.7,622.4 L1356.7,624.2 L1357.6,626.0 L1358.5,627.8 L1359.4,629.6 L1360.2,631.4 L1361.0,633.2 L1361.7,635.1 L1362.5,636.9 L1363.2,638.8 L1363.9,640.6 L1364.6,642.5 L1365.3,644.4 L1366.0,646.3 L1366.6,648.2 L1367.3,650.0 L1368.0,651.9 L1368.7,653.8 L1369.4,655.7 L1370.1,657.6 L1370.8,659.4 L1371.5,661.3 L1372.1,663.2 L1372.8,665.1 L1373.5,666.9 L1374.2,668.8 L1374.9,670.7 L1375.6,672.6 L1376.3,674.5 L1377.0,676.3 L1377.7,678.2 L1378.4,680.1 L1379.1,682.0 L1379.8,683.8 L1380.4,685.7 L1381.1,687.6 L1381.7,689.5 L1382.3,691.4 L1382.9,693.3 L1383.5,695.2 L1384.0,697.2 L1384.5,699.1 L1385.0,701.0 L1385.4,703.0 L1385.9,704.9 L1386.3,706.9 L1386.8,708.8 L1387.3,710.8 L1387.7,712.7 L1388.2,714.7 L1388.6,716.6 L1389.1,718.6 L1389.5,720.5 L1390.0,722.5 L1390.4,724.4 L1390.9,726.4 L1391.3,728.3 L1391.7,730.3 L1392.1,732.2 L1392.5,734.2 L1392.8,736.2 L1393.2,738.1 L1393.6,740.1 L1393.9,742.1 L1394.3,744.0 L1394.6,746.0 L1395.0,748.0 L1395.4,749.9 L1395.7,751.9 L1396.1,753.9 L1396.4,755.8 L1396.8,757.8 L1397.2,759.8 L1397.5,761.7 L1397.9,763.7 L1398.2,765.7 L1398.6,767.6 L1399.0,769.6 L1399.3,771.6 L1399.7,773.5 L1400.0,775.5 L1400.4,777.5 L1400.8,779.4 L1401.1,781.4 L1401.5,783.4 L1401.9,785.3 L1402.2,787.3 L1402.6,789.3 L1403.0,791.2 L1403.4,793.2 L1403.8,795.1 L1404.2,797.1 L1404.7,799.1 L1405.1,801.0 L1405.5,803.0 L1406.0,804.9 L1406.4,806.9 L1406.9,808.8 L1407.3,810.8 L1407.7,812.7 L1408.2,814.7 L1408.6,816.6 L1409.1,818.6 L1409.5,820.5 L1409.9,822.5 L1410.4,824.4 L1410.8,826.4 L1411.3,828.3 L1411.7,830.3 L1412.1,832.2 L1412.6,834.2 L1413.0,836.1 L1413.5,838.1 L1413.9,840.0 L1414.4,842.0 L1414.8,843.9 L1415.2,845.9 L1415.7,847.8 L1416.1,849.8 L1416.5,851.7 L1417.0,853.7 L1417.4,855.6 L1417.8,857.6 L1418.2,859.6 L1418.5,861.5 L1418.9,863.5 L1419.2,865.5 L1419.6,867.4 L1419.9,869.4 L1420.3,871.4 L1420.6,873.3 L1421.0,875.3 L1421.3,877.3 L1421.7,879.2 L1422.0,881.2 L1422.3,883.2 L1422.7,885.2 L1423.0,887.1 L1423.4,889.1 L1423.7,891.1 L1424.1,893.0 L1424.4,895.0 L1424.8,897.0 L1425.1,898.9 L1425.5,900.9 L1425.8,902.9 L1426.2,904.9 L1426.5,906.8 L1426.9,908.8 L1427.3,910.8 L1427.6,912.7 L1428.0,914.7 L1428.4,916.6 L1428.8,918.6 L1429.1,920.6 L1429.5,922.5 L1429.9,924.5 L1430.3,926.5 L1430.6,928.4 L1431.0,930.4 L1431.4,932.4 L1431.8,934.3 L1432.1,936.3 L1432.5,938.3 L1432.9,940.2 L1433.2,942.2 L1433.6,944.2 L1434.0,946.1 L1434.4,948.1 L1434.7,950.1 L1435.1,952.0 L1435.5,954.0 L1435.8,955.9 L1436.2,957.9 L1436.6,959.9 L1437.0,961.8 L1437.3,963.8 L1437.7,965.8 L1438.1,967.7 L1438.5,969.7 L1438.8,971.7 L1439.2,973.6 L1439.6,975.6 L1440.0,977.6 L1440.3,979.5 L1440.7,981.5 L1441.1,983.4 L1441.5,985.4 L1441.9,987.4 L1442.3,989.3 L1442.7,991.3 L1443.0,993.3 L1443.4,995.2 L1443.8,997.2 L1444.2,999.1 L1444.6,1001.1 L1445.0,1003.1 L1445.4,1005.0 L1445.8,1007.0 L1446.2,1008.9 L1446.6,1010.9 L1447.0,1012.9 L1447.4,1014.8 L1447.8,1016.8 L1448.1,1018.8 L1448.5,1020.7 L1448.9,1022.7 L1449.3,1024.6 L1449.7,1026.6 L1450.1,1028.6 L1450.5,1030.5 L1450.9,1032.5 L1451.3,1034.4 L1451.7,1036.4 L1452.1,1038.3 L1452.6,1040.3 L1453.1,1042.2 L1453.5,1044.2 L1454.0,1046.1 L1454.5,1048.1 L1455.0,1050.0 L1455.5,1051.9 L1456.1,1053.9 L1456.6,1055.8 L1457.1,1057.7 L1457.6,1059.7 L1458.1,1061.6 L1458.5,1063.5 L1459.0,1065.5 L1459.5,1067.4 L1460.0,1069.4 L1460.5,1071.3 L1460.9,1073.3 L1461.4,1075.2 L1461.8,1077.1 L1462.3,1079.1 L1462.8,1081.0 L1463.3,1083.0 L1463.7,1084.9 L1464.2,1086.9 L1464.8,1088.8 L1465.3,1090.7 L1465.9,1092.6 L1466.5,1094.5 L1467.2,1096.4 L1467.9,1098.3 L1468.6,1100.1 L1469.3,1102.0 L1470.1,1103.8 L1470.8,1105.7 L1471.6,1107.6 L1472.3,1109.4 L1473.1,1111.3 L1473.8,1113.1 L1474.6,1115.0 L1475.3,1116.8 L1476.1,1118.7 L1476.8,1120.5 L1477.6,1122.4 L1478.3,1124.2 L1479.1,1126.1 L1479.9,1127.9 L1480.7,1129.7 L1481.5,1131.6 L1482.3,1133.4 L1483.1,1135.2 L1483.9,1137.1 L1484.8,1138.9 L1485.6,1140.7 L1486.4,1142.6 L1487.2,1144.4 L1488.0,1146.2 L1488.8,1148.1 L1489.6,1149.9 L1490.5,1151.7 L1491.4,1153.5 L1492.3,1155.2 L1493.3,1156.9 L1494.4,1158.6 L1495.5,1160.2 L1496.7,1161.7 L1498.0,1163.3 L1499.3,1164.8 L1500.6,1166.3 L1502.0,1167.7 L1503.4,1169.2 L1504.7,1170.7 L1506.1,1172.1 L1507.5,1173.6 L1508.8,1175.0 L1510.2,1176.5 L1511.5,1178.0 L1512.9,1179.5 L1514.3,1180.9 L1515.6,1182.4 L1517.0,1183.9 L1518.3,1185.4 L1519.7,1186.8 L1521.0,1188.3 L1522.4,1189.8 L1523.7,1191.2 L1525.1,1192.7 L1526.5,1194.2 L1527.8,1195.6 L1529.2,1197.1 L1530.6,1198.5 L1531.9,1200.0 L1533.3,1201.5 L1534.7,1202.9 L1536.1,1204.3 L1537.5,1205.7 L1539.0,1207.0 L1540.5,1208.4 L1542.0,1209.7 L1543.6,1210.9 L1545.1,1212.1 L1546.7,1213.3 L1548.3,1214.5 L1550.0,1215.7 L1551.6,1216.9 L1553.2,1218.0 L1554.8,1219.2 L1556.5,1220.4 L1558.1,1221.5 L1559.7,1222.7 L1561.3,1223.9 L1563.0,1225.0 L1564.6,1226.2 L1566.2,1227.4 L1567.8,1228.6 L1569.4,1229.7 L1571.0,1230.9 L1572.7,1232.1 L1574.3,1233.3 L1575.9,1234.4 L1577.6,1235.6 L1579.2,1236.7 L1580.9,1237.8 L1582.5,1238.9 L1584.2,1239.9 L1586.0,1241.0 L1587.7,1242.0 L1589.4,1243.0 L1591.2,1243.9 L1592.9,1244.9 L1594.7,1245.9 L1596.4,1246.8 L1598.2,1247.7 L1600.0,1248.6 L1601.8,1249.4 L1603.7,1250.2 L1605.5,1250.9 L1607.4,1251.6 L1609.3,1252.3 L1611.2,1252.9 L1613.1,1253.5 L1615.0,1254.1 L1616.9,1254.7 L1618.8,1255.2 L1620.7,1255.8 L1622.6,1256.4 L1624.6,1256.9 L1626.5,1257.5 L1628.4,1258.1 L1630.3,1258.6 L1632.3,1259.2 L1634.2,1259.7 L1636.1,1260.2 L1638.0,1260.7 L1640.0,1261.2 L1641.9,1261.6 L1643.9,1262.0 L1645.8,1262.3 L1647.8,1262.6 L1649.8,1262.9 L1651.8,1263.0 L1653.8,1263.2 L1655.8,1263.3 L1657.8,1263.5 L1659.8,1263.6 L1661.8,1263.7 L1663.8,1263.8 L1665.7,1263.9 L1667.7,1264.0 L1669.7,1264.1 L1671.7,1264.2 L1673.7,1264.4 L1675.7,1264.5 L1677.7,1264.6 L1679.7,1264.7 L1681.7,1264.8 L1683.7,1264.9 L1685.7,1265.1 L1687.7,1265.2 L1689.7,1265.3 L1691.7,1265.4 L1693.7,1265.5 L1695.7,1265.6 L1697.7,1265.7 L1699.7,1265.8 L1701.7,1265.9 L1703.7,1266.0 L1705.7,1266.1 L1707.7,1266.2 L1709.7,1266.2 L1711.7,1266.3 L1713.7,1266.3 L1715.7,1266.3 L1717.7,1266.3 L1719.7,1266.3 L1721.7,1266.3 L1723.7,1266.3 L1725.7,1266.3 L1727.7,1266.4 L1729.7,1266.4 L1731.7,1266.5 L1733.7,1266.7 L1735.6,1266.9 L1737.6,1267.2 L1739.5,1267.5 L1741.4,1267.9 L1743.4,1268.3 L1745.3,1268.7 L1747.2,1269.1 L1749.2,1269.4 L1751.1,1269.7 L1753.1,1269.9 L1755.1,1270.0 L1757.1,1270.1 L1759.1,1270.1 L1761.1,1270.1 L1763.1,1270.1 L1765.1,1270.1 L1767.1,1270.1 L1769.1,1270.0 L1771.1,1270.0 L1773.1,1270.0 L1775.1,1270.0 L1777.1,1270.0 L1779.1,1270.0 L1781.1,1270.0 L1783.1,1270.0 L1785.1,1270.0 L1787.1,1270.0 L1789.1,1270.0 L1791.1,1270.0 L1793.1,1270.0 L1795.1,1270.0 L1797.1,1270.0 L1799.1,1270.0 L1801.1,1270.0 L1803.1,1270.0 L1805.1,1270.0 L1807.1,1270.0 L1809.1,1270.0 L1811.1,1270.0 L1813.1,1270.0 L1815.1,1270.0 L1817.1,1270.0 L1819.1,1270.0 L1821.1,1270.0 L1823.1,1270.0 L1825.1,1270.0 L1827.1,1270.0 L1829.1,1270.0 L1831.1,1270.0 L1833.1,1270.0 L1835.1,1270.0 L1837.1,1270.0 L1839.1,1270.0 L1841.1,1270.0 L1843.1,1270.0 L1845.1,1270.0 L1847.1,1270.0 L1849.1,1270.0 L1851.1,1270.0 L1853.1,1270.0 L1855.1,1270.0 L1857.1,1270.0 L1859.1,1270.0 L1861.1,1270.0 L1863.1,1270.0 L1865.1,1270.0 L1867.1,1270.0 L1869.1,1270.0 L1871.1,1270.0 L1873.1,1270.0 L1875.1,1270.0 L1877.1,1270.0 L1879.1,1270.0 L1881.1,1270.0 L1883.1,1270.0 L1885.1,1270.0 L1887.1,1270.0 L1889.1,1270.0 L1891.1,1270.0 L1893.1,1270.0 L1895.1,1270.0 L1897.1,1270.0 L1899.1,1270.0 L1901.1,1270.0 L1903.1,1269.9 L1905.1,1269.9 L1907.1,1269.9 L1909.1,1269.9 L1911.1,1269.9 L1913.1,1269.9 L1915.1,1270.0 L1917.0,1270.2 L1919.0,1270.5 L1920.9,1270.8 L1922.8,1271.2 L1924.7,1271.7 L1926.6,1272.1 L1928.5,1272.6 L1930.4,1273.0 L1932.3,1273.4 L1934.2,1273.7 L1936.2,1273.9 L1938.1,1274.0 L1940.1,1274.1 L1942.1,1274.1 L1944.1,1274.1 L1946.1,1274.1 L1948.1,1274.1 L1950.1,1274.1 L1952.1,1274.0 L1954.1,1274.0 L1956.1,1274.0 L1958.1,1274.0 L1960.1,1274.0 L1962.1,1274.0 L1964.1,1274.0 L1966.1,1274.0 L1968.1,1274.0 L1970.1,1274.0 L1972.1,1274.0 L1974.1,1274.0 L1976.1,1274.0 L1978.1,1274.0 L1980.1,1274.0 L1982.1,1274.0 L1984.1,1274.0 L1986.1,1274.0 L1988.1,1274.0 L1990.1,1274.0 L1992.1,1274.0 L1994.1,1274.0 L1996.1,1274.0 L1998.1,1274.0 L2000.1,1274.0 L2002.1,1274.0 L2004.2,1274.0 L2006.2,1274.0 L2008.2,1274.0 L2010.2,1274.0 L2012.2,1274.0 L2014.1,1274.0 L2016.1,1274.0 L2018.1,1274.0 L2020.1,1274.0 L2022.1,1274.0 L2024.0,1274.0 L2026.0,1274.0" stroke="#f00" stroke-width="7"/>
<path d="M522.0,596.0 L524.0,596.0 L526.0,596.0 L528.0,596.0 L530.0,596.0 L532.0,596.0 L534.0,596.0 L536.0,596.0 L538.0,596.0 L540.0,596.0 L542.0,596.0 L544.0,596.0 L546.0,596.0 L548.0,596.0 L550.0,596.0 L552.0,596.0 L554.0,596.0 L556.0,596.0 L558.0,596.0 L560.0,596.0 L562.0,596.0 L564.0,596.0 L566.0,596.0 L568.0,596.0 L570.0,596.0 L572.0,596.0 L574.0,596.0 L576.0,596.0 L578.0,596.0 L580.0,596.0 L582.0,596.0 L584.0,596.0 L586.0,596.0 L588.0,596.0 L590.0,596.0 L592.0,596.0 L594.0,596.0 L596.0,596.0 L598.0,596.0 L600.0,596.0 L602.0,596.0 L604.0,596.0 L606.0,596.0 L608.0,596.0 L610.0,596.0 L612.0,596.0 L614.0,596.0 L616.0,596.0 L618.0,596.0 L620.0,596.0 L622.0,596.0 L624.0,596.0 L626.0,596.0 L628.0,596.0 L630.0,596.0 L632.0,596.0 L634.0,596.0 L636.0,596.0 L638.0,596.0 L640.0,596.0 L642.0,596.0 L644.0,596.0 L646.0,596.1 L648.0,596.1 L650.0,596.2 L651.9,596.4 L653.9,596.7 L655.8,597.1 L657.8,597.6 L659.7,598.1 L661.6,598.7 L663.5,599.3 L665.4,599.9 L667.3,600.5 L669.2,601.1 L671.1,601.7 L673.0,602.4 L674.9,603.0 L676.8,603.7 L678.7,604.3 L680.6,605.0 L682.4,605.7 L684.3,606.3 L686.2,607.0 L688.1,607.7 L690.0,608.4 L691.9,609.0 L693.7,609.8 L695.6,610.5 L697.4,611.3 L699.2,612.1 L701.0,613.0 L702.8,613.9 L704.6,614.8 L706.4,615.7 L708.1,616.6 L709.9,617.5 L711.7,618.5 L713.5,619.4 L715.2,620.3 L717.0,621.2 L718.8,622.1 L720.6,623.0 L722.4,623.9 L724.2,624.8 L726.0,625.6 L727.9,626.3 L729.7,627.0 L731.6,627.7 L733.5,628.4 L735.4,629.0 L737.3,629.7 L739.2,630.3 L741.0,631.0 L743.0,631.6 L744.9,632.2 L746.8,632.7 L748.7,633.2 L750.6,633.7 L752.6,634.2 L754.5,634.7 L756.5,635.1 L758.4,635.6 L760.4,636.0 L762.3,636.4 L764.3,636.8 L766.2,637.3 L768.2,637.7 L770.1,638.1 L772.1,638.5 L774.0,639.0 L775.9,639.6 L777.8,640.2 L779.7,640.9 L781.6,641.6 L783.4,642.4 L785.2,643.2 L787.0,644.0 L788.8,644.9 L790.6,645.8 L792.4,646.7 L794.2,647.6 L795.9,648.6 L797.7,649.5 L799.4,650.5 L801.2,651.5 L802.9,652.5 L804.6,653.6 L806.2,654.7 L807.9,655.8 L809.4,657.0 L811.0,658.3 L812.5,659.6 L813.9,661.0 L815.3,662.4 L816.7,663.8 L818.1,665.3 L819.4,666.8 L820.7,668.3 L822.0,669.8 L823.3,671.3 L824.6,672.9 L825.8,674.4 L827.1,675.9 L828.4,677.5 L829.7,679.0 L830.9,680.6 L832.2,682.1 L833.4,683.7 L834.6,685.3 L835.9,686.9 L837.1,688.5 L838.3,690.1 L839.5,691.7 L840.7,693.3 L841.9,694.9 L843.1,696.5 L844.3,698.1 L845.5,699.7 L846.7,701.3 L847.9,702.9 L849.1,704.5 L850.3,706.0 L851.5,707.6 L852.7,709.2 L853.9,710.8 L855.2,712.4 L856.4,714.0 L857.6,715.6 L858.8,717.1 L860.1,718.7 L861.3,720.3 L862.6,721.8 L863.8,723.4 L865.1,724.9 L866.4,726.5 L867.6,728.0 L868.9,729.5 L870.2,731.1 L871.5,732.6 L872.8,734.1 L874.1,735.7 L875.4,737.2 L876.7,738.7 L878.0,740.2 L879.4,741.7 L880.7,743.2 L882.0,744.6 L883.4,746.1 L884.7,747.6 L886.0,749.2 L887.2,750.7 L888.4,752.3 L889.6,753.9 L890.8,755.5 L891.9,757.2 L893.0,758.8 L894.2,760.5 L895.3,762.1 L896.4,763.8 L897.5,765.5 L898.6,767.1 L899.8,768.8 L900.9,770.4 L902.0,772.1 L903.1,773.8 L904.2,775.4 L905.3,777.1 L906.3,778.8 L907.3,780.5 L908.3,782.3 L909.3,784.0 L910.3,785.8 L911.2,787.5 L912.2,789.3 L913.1,791.0 L914.1,792.8 L915.0,794.6 L916.0,796.3 L916.9,798.1 L917.8,799.9 L918.8,801.6 L919.7,803.4 L920.6,805.2 L921.4,807.0 L922.2,808.8 L923.0,810.6 L923.8,812.5 L924.5,814.4 L925.3,816.2 L926.0,818.1 L926.7,819.9 L927.4,821.8 L928.2,823.7 L928.9,825.5 L929.6,827.4 L930.3,829.3 L931.0,831.1 L931.7,833.0 L932.3,834.9 L932.9,836.8 L933.5,838.7 L934.1,840.6 L934.7,842.6 L935.2,844.5 L935.7,846.4 L936.3,848.3 L936.8,850.3 L937.3,852.2 L937.9,854.1 L938.4,856.0 L939.0,858.0 L939.5,859.9 L940.1,861.8 L940.6,863.7 L941.2,865.6 L941.8,867.5 L942.5,869.4 L943.1,871.3 L943.7,873.2 L944.4,875.1 L945.0,877.0 L945.6,878.9 L946.3,880.8 L946.9,882.7 L947.5,884.6 L948.2,886.5 L948.8,888.4 L949.5,890.3 L950.1,892.2 L950.8,894.1 L951.5,895.9 L952.2,897.8 L952.9,899.7 L953.6,901.6 L954.3,903.5 L954.9,905.3 L955.6,907.2 L956.3,909.1 L957.0,911.0 L957.7,912.8 L958.4,914.7 L959.0,916.6 L959.7,918.5 L960.4,920.4 L961.1,922.3 L961.7,924.1 L962.4,926.0 L963.0,927.9 L963.6,929.8 L964.2,931.7 L964.7,933.7 L965.3,935.6 L965.8,937.5 L966.3,939.4 L966.9,941.4 L967.4,943.3 L967.9,945.2 L968.5,947.2 L969.0,949.1 L969.5,951.0 L970.0,953.0 L970.5,954.9 L971.1,956.8 L971.6,958.8 L972.1,960.7 L972.6,962.6 L973.1,964.6 L973.6,966.5 L974.1,968.4 L974.6,970.4 L975.1,972.3 L975.6,974.2 L976.2,976.2 L976.7,978.1 L977.2,980.0 L977.9,981.9 L978.5,983.8 L979.2,985.6 L980.0,987.4 L980.9,989.2 L981.8,991.0 L982.7,992.8 L983.7,994.5 L984.6,996.3 L985.6,998.0 L986.5,999.8 L987.5,1001.6 L988.5,1003.3 L989.4,1005.1 L990.4,1006.8 L991.4,1008.5 L992.4,1010.2 L993.5,1011.9 L994.6,1013.5 L995.8,1015.1 L997.1,1016.7 L998.4,1018.2 L999.7,1019.7 L1001.0,1021.2 L1002.4,1022.6 L1003.8,1024.0 L1005.3,1025.2 L1006.9,1026.3 L1008.5,1027.3 L1010.3,1028.1 L1012.1,1028.9 L1014.0,1029.5 L1015.8,1030.0 L1017.7,1030.4 L1019.6,1030.7 L1021.5,1030.7 L1023.4,1030.6 L1025.3,1030.2 L1027.2,1029.8 L1029.1,1029.2 L1030.9,1028.5 L1032.7,1027.7 L1034.5,1026.8 L1036.1,1025.8 L1037.7,1024.7 L1039.2,1023.5 L1040.7,1022.2 L1042.2,1020.8 L1043.6,1019.4 L1045.0,1018.0 L1046.4,1016.5 L1047.7,1015.1 L1049.0,1013.6 L1050.3,1012.0 L1051.5,1010.5 L1052.7,1008.9 L1053.9,1007.3 L1055.0,1005.6 L1056.2,1004.0 L1057.3,1002.3 L1058.4,1000.7 L1059.6,999.0 L1060.7,997.4 L1061.8,995.7 L1062.9,994.1 L1064.1,992.4 L1065.2,990.8 L1066.3,989.1 L1067.3,987.4 L1068.3,985.7 L1069.3,983.9 L1070.2,982.2 L1071.1,980.4 L1071.9,978.6 L1072.7,976.7 L1073.5,974.9 L1074.3,973.1 L1075.1,971.2 L1075.8,969.4 L1076.6,967.5 L1077.4,965.7 L1078.2,963.8 L1079.0,962.0 L1079.7,960.2 L1080.5,958.3 L1081.3,956.5 L1082.0,954.6 L1082.8,952.8 L1083.5,950.9 L1084.3,949.1 L1085.0,947.2 L1085.8,945.3 L1086.5,943.5 L1087.3,941.6 L1088.0,939.8 L1088.7,937.9 L1089.5,936.1 L1090.2,934.2 L1091.0,932.3 L1091.7,930.5 L1092.4,928.6 L1093.1,926.8 L1093.9,924.9 L1094.6,923.0 L1095.3,921.1 L1096.0,919.3 L1096.7,917.4 L1097.4,915.5 L1098.1,913.7 L1098.8,911.8 L1099.5,909.9 L1100.2,908.0 L1100.9,906.2 L1101.6,904.3 L1102.2,902.4 L1102.8,900.5 L1103.5,898.6 L1104.0,896.7 L1104.6,894.8 L1105.1,892.8 L1105.7,890.9 L1106.2,889.0 L1106.7,887.1 L1107.3,885.1 L1107.8,883.2 L1108.4,881.3 L1109.0,879.4 L1109.5,877.5 L1110.1,875.5 L1110.7,873.6 L1111.2,871.7 L1111.8,869.8 L1112.4,867.9 L1113.0,866.0 L1113.6,864.0 L1114.1,862.1 L1114.7,860.2 L1115.3,858.3 L1115.9,856.4 L1116.4,854.5 L1117.0,852.6 L1117.6,850.6 L1118.2,848.7 L1118.7,846.8 L1119.3,844.9 L1119.9,843.0 L1120.5,841.1 L1121.0,839.1 L1121.6,837.2 L1122.1,835.3 L1122.7,833.4 L1123.2,831.4 L1123.7,829.5 L1124.3,827.6 L1124.8,825.7 L1125.3,823.7 L1125.9,821.8 L1126.4,819.9 L1126.9,817.9 L1127.4,816.0 L1128.0,814.1 L1128.5,812.2 L1129.0,810.2 L1129.6,808.3 L1130.1,806.4 L1130.6,804.4 L1131.1,802.5 L1131.7,800.6 L1132.2,798.7 L1132.7,796.7 L1133.2,794.8 L1133.7,792.8 L1134.2,790.9 L1134.6,789.0 L1135.0,787.0 L1135.4,785.0 L1135.8,783.1 L1136.1,781.1 L1136.5,779.1 L1136.9,777.2 L1137.2,775.2 L1137.6,773.2 L1138.0,771.3 L1138.3,769.3 L1138.7,767.3 L1139.1,765.4 L1139.4,763.4 L1139.8,761.4 L1140.2,759.5 L1140.5,757.5 L1140.9,755.5 L1141.3,753.6 L1141.7,751.6 L1142.0,749.7 L1142.4,747.7 L1142.8,745.7 L1143.3,743.8 L1143.7,741.8 L1144.2,739.9 L1144.6,737.9 L1145.1,736.0 L1145.6,734.1 L1146.1,732.1 L1146.6,730.2 L1147.0,728.2 L1147.5,726.3 L1148.0,724.4 L1148.5,722.4 L1149.0,720.5 L1149.5,718.5 L1149.9,716.6 L1150.4,714.7 L1150.9,712.7 L1151.4,710.8 L1151.9,708.8 L1152.4,706.9 L1152.8,705.0 L1153.3,703.0 L1153.8,701.1 L1154.3,699.1 L1154.8,697.2 L1155.3,695.3 L1155.8,693.3 L1156.3,691.4 L1156.9,689.5 L1157.4,687.5 L1157.9,685.6 L1158.4,683.7 L1158.9,681.7 L1159.4,679.8 L1159.9,677.9 L1160.4,675.9 L1161.0,674.0 L1161.5,672.1 L1162.0,670.1 L1162.5,668.2 L1163.0,666.3 L1163.5,664.3 L1164.0,662.4 L1164.6,660.5 L1165.1,658.5 L1165.6,656.6 L1166.2,654.7 L1166.7,652.8 L1167.3,650.9 L1168.0,649.0 L1168.6,647.1 L1169.2,645.2 L1169.9,643.3 L1170.6,641.4 L1171.2,639.5 L1171.9,637.6 L1172.6,635.8 L1173.3,633.9 L1174.0,632.0 L1174.8,630.2 L1175.7,628.4 L1176.6,626.6 L1177.5,624.9 L1178.5,623.2 L1179.5,621.4 L1180.5,619.7 L1181.6,618.0 L1182.6,616.3 L1183.6,614.6 L1184.7,612.9 L1185.7,611.2 L1186.8,609.5 L1188.0,607.9 L1189.2,606.4 L1190.5,604.8 L1191.8,603.4 L1193.2,602.0 L1194.7,600.6 L1196.1,599.2 L1197.6,597.8 L1199.0,596.5 L1200.5,595.2 L1202.0,593.8 L1203.5,592.6 L1205.1,591.3 L1206.7,590.2 L1208.4,589.2 L1210.1,588.2 L1211.9,587.4 L1213.7,586.7 L1215.6,586.1 L1217.5,585.6 L1219.4,585.2 L1221.4,584.9 L1223.4,584.8 L1225.4,584.6 L1227.4,584.6 L1229.4,584.5 L1231.4,584.5 L1233.4,584.5 L1235.4,584.5 L1237.4,584.5 L1239.4,584.5 L1241.4,584.5 L1243.4,584.5 L1245.4,584.5 L1247.4,584.5 L1249.4,584.5 L1251.4,584.5 L1253.4,584.5 L1255.4,584.5 L1257.4,584.5 L1259.4,584.5 L1261.4,584.5 L1263.4,584.5 L1265.4,584.5 L1267.4,584.5 L1269.4,584.5 L1271.4,584.5 L1273.4,584.5 L1275.4,584.5 L1277.4,584.5 L1279.4,584.5 L1281.4,584.5 L1283.4,584.5 L1285.4,584.5 L1287.4,584.5 L1289.4,584.5 L1291.4,584.5 L1293.4,584.5 L1295.4,584.5 L1297.4,584.5 L1299.4,584.5 L1301.4,584.5 L1303.4,584.5 L1305.4,584.5 L1307.4,584.5 L1309.4,584.5 L1311.4,584.5 L1313.4,584.5 L1315.4,584.5 L1317.4,584.5 L1319.4,584.5 L1321.4,584.5 L1323.4,584.5 L1325.4,584.5 L1327.4,584.5 L1329.3,584.5 L1331.3,584.5 L1333.3,584.5 L1335.2,584.5 L1337.1,584.5 L1339.0,584.5" stroke="#f00" stroke-width="6.5"/>
</g>
<g>
<path d="M743.5,636 V673" stroke="#f00" stroke-width="6.8"/>
<path d="M733,671 L754.5,671 L754.5,688 L750.5,704 L747,708 L740,708 L736.5,704 L733,688 Z" fill="#f00"/>
<path d="M875,738 V772" stroke="#f00" stroke-width="7"/>
<path d="M864,769.5 L886,768.5 L886,786.5 L882,797 L878.5,801.5 L871.5,801.5 L867.5,797 L867.5,776 L864,775 Z" fill="#f00"/>
<path d="M1025,1030 V980" stroke="#f00" stroke-width="8"/>
<path d="M1016.5,982.5 L1036,982.5 L1036,964 L1032.5,958 L1029,948 L1021,948 L1021,958 L1016.5,964 Z" fill="#f00"/>
<path d="M1025,1052 V1074" stroke="#000" stroke-width="8"/>
<path d="M1013.5,1071.7 L1036,1071.7 L1036,1090 L1032.5,1104 L1029,1108.4 L1021,1108.4 L1017.4,1104 L1013.5,1090 Z" fill="#000"/>
<rect x="1220" y="566" width="7" height="18" fill="#f00"/>
</g>
</svg>
</body></html>
